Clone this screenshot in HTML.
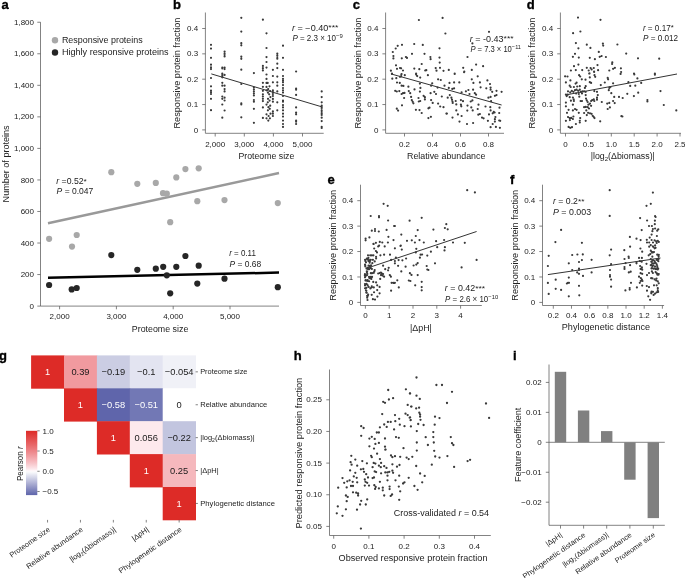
<!DOCTYPE html>
<html><head><meta charset="utf-8"><style>
html,body{margin:0;padding:0;background:#fff;width:685px;height:578px;overflow:hidden}
svg{display:block;will-change:transform}
text{font-family:"Liberation Sans",sans-serif}
</style></head><body>
<svg width="685" height="578" viewBox="0 0 685 578">
<rect width="685" height="578" fill="#fff"/>
<text x="1.50" y="9.20" font-size="13" fill="#000" font-weight="bold" stroke="#000" stroke-width="0.35">a</text>
<text x="173.00" y="9.10" font-size="13" fill="#000" font-weight="bold" stroke="#000" stroke-width="0.35">b</text>
<text x="352.70" y="9.20" font-size="13" fill="#000" font-weight="bold" stroke="#000" stroke-width="0.35">c</text>
<text x="526.70" y="9.20" font-size="13" fill="#000" font-weight="bold" stroke="#000" stroke-width="0.35">d</text>
<text x="327.60" y="184.00" font-size="13" fill="#000" font-weight="bold" stroke="#000" stroke-width="0.35">e</text>
<text x="510.00" y="184.00" font-size="13" fill="#000" font-weight="bold" stroke="#000" stroke-width="0.35">f</text>
<text x="-1.00" y="359.60" font-size="13" fill="#000" font-weight="bold" stroke="#000" stroke-width="0.35">g</text>
<text x="293.70" y="359.80" font-size="13" fill="#000" font-weight="bold" stroke="#000" stroke-width="0.35">h</text>
<text x="513.10" y="359.80" font-size="13" fill="#000" font-weight="bold" stroke="#000" stroke-width="0.35">i</text>
<line x1="40.50" y1="22.20" x2="40.50" y2="306.10" stroke="#5a5a5a" stroke-width="0.75" stroke-linecap="butt"/>
<line x1="37.30" y1="306.10" x2="40.50" y2="306.10" stroke="#5a5a5a" stroke-width="0.75" stroke-linecap="butt"/>
<text x="34.00" y="308.70" font-size="8.0" fill="#222222" text-anchor="end">0</text>
<line x1="37.30" y1="274.56" x2="40.50" y2="274.56" stroke="#5a5a5a" stroke-width="0.75" stroke-linecap="butt"/>
<text x="34.00" y="277.16" font-size="8.0" fill="#222222" text-anchor="end">200</text>
<line x1="37.30" y1="243.02" x2="40.50" y2="243.02" stroke="#5a5a5a" stroke-width="0.75" stroke-linecap="butt"/>
<text x="34.00" y="245.62" font-size="8.0" fill="#222222" text-anchor="end">400</text>
<line x1="37.30" y1="211.48" x2="40.50" y2="211.48" stroke="#5a5a5a" stroke-width="0.75" stroke-linecap="butt"/>
<text x="34.00" y="214.08" font-size="8.0" fill="#222222" text-anchor="end">600</text>
<line x1="37.30" y1="179.94" x2="40.50" y2="179.94" stroke="#5a5a5a" stroke-width="0.75" stroke-linecap="butt"/>
<text x="34.00" y="182.54" font-size="8.0" fill="#222222" text-anchor="end">800</text>
<line x1="37.30" y1="148.40" x2="40.50" y2="148.40" stroke="#5a5a5a" stroke-width="0.75" stroke-linecap="butt"/>
<text x="34.00" y="151.00" font-size="8.0" fill="#222222" text-anchor="end">1,000</text>
<line x1="37.30" y1="116.86" x2="40.50" y2="116.86" stroke="#5a5a5a" stroke-width="0.75" stroke-linecap="butt"/>
<text x="34.00" y="119.46" font-size="8.0" fill="#222222" text-anchor="end">1,200</text>
<line x1="37.30" y1="85.32" x2="40.50" y2="85.32" stroke="#5a5a5a" stroke-width="0.75" stroke-linecap="butt"/>
<text x="34.00" y="87.92" font-size="8.0" fill="#222222" text-anchor="end">1,400</text>
<line x1="37.30" y1="53.78" x2="40.50" y2="53.78" stroke="#5a5a5a" stroke-width="0.75" stroke-linecap="butt"/>
<text x="34.00" y="56.38" font-size="8.0" fill="#222222" text-anchor="end">1,600</text>
<line x1="37.30" y1="22.24" x2="40.50" y2="22.24" stroke="#5a5a5a" stroke-width="0.75" stroke-linecap="butt"/>
<text x="34.00" y="24.84" font-size="8.0" fill="#222222" text-anchor="end">1,800</text>
<line x1="40.50" y1="306.10" x2="279.00" y2="306.10" stroke="#5a5a5a" stroke-width="0.75" stroke-linecap="butt"/>
<line x1="59.60" y1="306.10" x2="59.60" y2="309.30" stroke="#5a5a5a" stroke-width="0.75" stroke-linecap="butt"/>
<text x="59.60" y="318.70" font-size="8.0" fill="#222222" text-anchor="middle">2,000</text>
<line x1="116.40" y1="306.10" x2="116.40" y2="309.30" stroke="#5a5a5a" stroke-width="0.75" stroke-linecap="butt"/>
<text x="116.40" y="318.70" font-size="8.0" fill="#222222" text-anchor="middle">3,000</text>
<line x1="173.20" y1="306.10" x2="173.20" y2="309.30" stroke="#5a5a5a" stroke-width="0.75" stroke-linecap="butt"/>
<text x="173.20" y="318.70" font-size="8.0" fill="#222222" text-anchor="middle">4,000</text>
<line x1="230.00" y1="306.10" x2="230.00" y2="309.30" stroke="#5a5a5a" stroke-width="0.75" stroke-linecap="butt"/>
<text x="230.00" y="318.70" font-size="8.0" fill="#222222" text-anchor="middle">5,000</text>
<text x="160.05" y="331.90" font-size="8.4" fill="#222222" text-anchor="middle" textLength="56.50" lengthAdjust="spacingAndGlyphs">Proteome size</text>
<text x="8.70" y="163.90" font-size="8.4" fill="#222222" text-anchor="middle" textLength="77.00" lengthAdjust="spacingAndGlyphs" transform="rotate(-90 8.70 163.90)">Number of proteins</text>
<circle cx="55.00" cy="40.20" r="3.2" fill="#a8a8a8"/>
<circle cx="55.00" cy="52.50" r="3.2" fill="#262626"/>
<text x="61.90" y="42.90" font-size="8.7" fill="#222222" textLength="80.80" lengthAdjust="spacingAndGlyphs">Responsive proteins</text>
<text x="61.90" y="55.20" font-size="8.7" fill="#222222" textLength="106.70" lengthAdjust="spacingAndGlyphs">Highly responsive proteins</text>
<line x1="48.00" y1="223.30" x2="279.00" y2="173.00" stroke="#999999" stroke-width="2.5" stroke-linecap="butt"/>
<line x1="48.00" y1="277.80" x2="279.00" y2="272.60" stroke="#000000" stroke-width="2.5" stroke-linecap="butt"/>
<circle cx="49.10" cy="238.80" r="3.1" fill="#a8a8a8"/>
<circle cx="72.00" cy="246.60" r="3.1" fill="#a8a8a8"/>
<circle cx="76.70" cy="235.00" r="3.1" fill="#a8a8a8"/>
<circle cx="111.30" cy="172.20" r="3.1" fill="#a8a8a8"/>
<circle cx="137.30" cy="183.80" r="3.1" fill="#a8a8a8"/>
<circle cx="155.80" cy="182.90" r="3.1" fill="#a8a8a8"/>
<circle cx="163.00" cy="193.20" r="3.1" fill="#a8a8a8"/>
<circle cx="166.80" cy="193.70" r="3.1" fill="#a8a8a8"/>
<circle cx="170.20" cy="222.20" r="3.1" fill="#a8a8a8"/>
<circle cx="176.30" cy="177.40" r="3.1" fill="#a8a8a8"/>
<circle cx="185.40" cy="169.10" r="3.1" fill="#a8a8a8"/>
<circle cx="198.70" cy="168.30" r="3.1" fill="#a8a8a8"/>
<circle cx="197.30" cy="201.20" r="3.1" fill="#a8a8a8"/>
<circle cx="224.50" cy="200.10" r="3.1" fill="#a8a8a8"/>
<circle cx="277.80" cy="203.10" r="3.1" fill="#a8a8a8"/>
<circle cx="49.10" cy="285.00" r="3.1" fill="#262626"/>
<circle cx="71.70" cy="289.40" r="3.1" fill="#262626"/>
<circle cx="76.70" cy="288.00" r="3.1" fill="#262626"/>
<circle cx="111.30" cy="255.10" r="3.1" fill="#262626"/>
<circle cx="137.30" cy="269.80" r="3.1" fill="#262626"/>
<circle cx="155.80" cy="268.70" r="3.1" fill="#262626"/>
<circle cx="163.20" cy="266.80" r="3.1" fill="#262626"/>
<circle cx="166.80" cy="275.30" r="3.1" fill="#262626"/>
<circle cx="170.20" cy="293.30" r="3.1" fill="#262626"/>
<circle cx="176.30" cy="266.80" r="3.1" fill="#262626"/>
<circle cx="185.40" cy="256.00" r="3.1" fill="#262626"/>
<circle cx="198.70" cy="265.70" r="3.1" fill="#262626"/>
<circle cx="197.30" cy="283.60" r="3.1" fill="#262626"/>
<circle cx="224.50" cy="278.70" r="3.1" fill="#262626"/>
<circle cx="277.80" cy="287.20" r="3.1" fill="#262626"/>
<text x="56.30" y="184.10" font-size="8.4" fill="#222222" textLength="30.50" lengthAdjust="spacingAndGlyphs"><tspan font-style="italic">r</tspan> =0.52<tspan dy="-0.6" font-size="8">*</tspan></text>
<text x="56.60" y="194.30" font-size="8.4" fill="#222222" textLength="36.70" lengthAdjust="spacingAndGlyphs"><tspan font-style="italic">P</tspan> = 0.047</text>
<text x="229.20" y="256.40" font-size="8.4" fill="#222222" textLength="26.70" lengthAdjust="spacingAndGlyphs"><tspan font-style="italic">r</tspan> = 0.11</text>
<text x="229.50" y="266.50" font-size="8.4" fill="#222222" textLength="31.70" lengthAdjust="spacingAndGlyphs"><tspan font-style="italic">P</tspan> = 0.68</text>
<line x1="205.40" y1="12.50" x2="205.40" y2="133.30" stroke="#5a5a5a" stroke-width="0.75" stroke-linecap="butt"/>
<line x1="202.20" y1="129.90" x2="205.40" y2="129.90" stroke="#5a5a5a" stroke-width="0.75" stroke-linecap="butt"/>
<text x="198.20" y="132.50" font-size="8.0" fill="#222222" text-anchor="end">0</text>
<line x1="202.20" y1="104.55" x2="205.40" y2="104.55" stroke="#5a5a5a" stroke-width="0.75" stroke-linecap="butt"/>
<text x="198.20" y="107.15" font-size="8.0" fill="#222222" text-anchor="end">0.1</text>
<line x1="202.20" y1="79.20" x2="205.40" y2="79.20" stroke="#5a5a5a" stroke-width="0.75" stroke-linecap="butt"/>
<text x="198.20" y="81.80" font-size="8.0" fill="#222222" text-anchor="end">0.2</text>
<line x1="202.20" y1="53.85" x2="205.40" y2="53.85" stroke="#5a5a5a" stroke-width="0.75" stroke-linecap="butt"/>
<text x="198.20" y="56.45" font-size="8.0" fill="#222222" text-anchor="end">0.3</text>
<line x1="202.20" y1="28.50" x2="205.40" y2="28.50" stroke="#5a5a5a" stroke-width="0.75" stroke-linecap="butt"/>
<text x="198.20" y="31.10" font-size="8.0" fill="#222222" text-anchor="end">0.4</text>
<line x1="205.40" y1="133.30" x2="323.70" y2="133.30" stroke="#5a5a5a" stroke-width="0.75" stroke-linecap="butt"/>
<line x1="215.20" y1="133.30" x2="215.20" y2="136.50" stroke="#5a5a5a" stroke-width="0.75" stroke-linecap="butt"/>
<text x="215.20" y="146.60" font-size="8.0" fill="#222222" text-anchor="middle">2,000</text>
<line x1="244.30" y1="133.30" x2="244.30" y2="136.50" stroke="#5a5a5a" stroke-width="0.75" stroke-linecap="butt"/>
<text x="244.30" y="146.60" font-size="8.0" fill="#222222" text-anchor="middle">3,000</text>
<line x1="273.40" y1="133.30" x2="273.40" y2="136.50" stroke="#5a5a5a" stroke-width="0.75" stroke-linecap="butt"/>
<text x="273.40" y="146.60" font-size="8.0" fill="#222222" text-anchor="middle">4,000</text>
<line x1="302.50" y1="133.30" x2="302.50" y2="136.50" stroke="#5a5a5a" stroke-width="0.75" stroke-linecap="butt"/>
<text x="302.50" y="146.60" font-size="8.0" fill="#222222" text-anchor="middle">5,000</text>
<text x="180.40" y="73.05" font-size="8.4" fill="#222222" text-anchor="middle" textLength="110.90" lengthAdjust="spacingAndGlyphs" transform="rotate(-90 180.40 73.05)">Responsive protein fraction</text>
<text x="266.40" y="159.00" font-size="8.4" fill="#222222" text-anchor="middle" textLength="55.80" lengthAdjust="spacingAndGlyphs">Proteome size</text>
<line x1="211.30" y1="73.90" x2="322.00" y2="106.90" stroke="#333" stroke-width="1.0" stroke-linecap="butt"/>
<text x="292.00" y="30.70" font-size="8.4" fill="#222222" textLength="46.40" lengthAdjust="spacingAndGlyphs"><tspan font-style="italic">r</tspan> = −0.40<tspan dy="-0.6" font-size="8">***</tspan></text>
<text x="292.40" y="40.90" font-size="8.4" fill="#222222" textLength="50.40" lengthAdjust="spacingAndGlyphs"><tspan font-style="italic">P</tspan> = 2.3 × 10<tspan dy="-3.0" font-size="6.2">−9</tspan></text>
<line x1="385.60" y1="12.50" x2="385.60" y2="133.30" stroke="#5a5a5a" stroke-width="0.75" stroke-linecap="butt"/>
<line x1="382.40" y1="129.90" x2="385.60" y2="129.90" stroke="#5a5a5a" stroke-width="0.75" stroke-linecap="butt"/>
<text x="378.40" y="132.50" font-size="8.0" fill="#222222" text-anchor="end">0</text>
<line x1="382.40" y1="104.55" x2="385.60" y2="104.55" stroke="#5a5a5a" stroke-width="0.75" stroke-linecap="butt"/>
<text x="378.40" y="107.15" font-size="8.0" fill="#222222" text-anchor="end">0.1</text>
<line x1="382.40" y1="79.20" x2="385.60" y2="79.20" stroke="#5a5a5a" stroke-width="0.75" stroke-linecap="butt"/>
<text x="378.40" y="81.80" font-size="8.0" fill="#222222" text-anchor="end">0.2</text>
<line x1="382.40" y1="53.85" x2="385.60" y2="53.85" stroke="#5a5a5a" stroke-width="0.75" stroke-linecap="butt"/>
<text x="378.40" y="56.45" font-size="8.0" fill="#222222" text-anchor="end">0.3</text>
<line x1="382.40" y1="28.50" x2="385.60" y2="28.50" stroke="#5a5a5a" stroke-width="0.75" stroke-linecap="butt"/>
<text x="378.40" y="31.10" font-size="8.0" fill="#222222" text-anchor="end">0.4</text>
<line x1="385.60" y1="133.30" x2="504.00" y2="133.30" stroke="#5a5a5a" stroke-width="0.75" stroke-linecap="butt"/>
<line x1="404.50" y1="133.30" x2="404.50" y2="136.50" stroke="#5a5a5a" stroke-width="0.75" stroke-linecap="butt"/>
<text x="404.50" y="146.60" font-size="8.0" fill="#222222" text-anchor="middle">0.2</text>
<line x1="432.50" y1="133.30" x2="432.50" y2="136.50" stroke="#5a5a5a" stroke-width="0.75" stroke-linecap="butt"/>
<text x="432.50" y="146.60" font-size="8.0" fill="#222222" text-anchor="middle">0.4</text>
<line x1="460.50" y1="133.30" x2="460.50" y2="136.50" stroke="#5a5a5a" stroke-width="0.75" stroke-linecap="butt"/>
<text x="460.50" y="146.60" font-size="8.0" fill="#222222" text-anchor="middle">0.6</text>
<line x1="488.50" y1="133.30" x2="488.50" y2="136.50" stroke="#5a5a5a" stroke-width="0.75" stroke-linecap="butt"/>
<text x="488.50" y="146.60" font-size="8.0" fill="#222222" text-anchor="middle">0.8</text>
<text x="360.60" y="73.05" font-size="8.4" fill="#222222" text-anchor="middle" textLength="110.90" lengthAdjust="spacingAndGlyphs" transform="rotate(-90 360.60 73.05)">Responsive protein fraction</text>
<text x="446.20" y="159.00" font-size="8.4" fill="#222222" text-anchor="middle" textLength="78.40" lengthAdjust="spacingAndGlyphs">Relative abundance</text>
<line x1="390.90" y1="73.90" x2="501.60" y2="105.00" stroke="#333" stroke-width="1.0" stroke-linecap="butt"/>
<text x="469.80" y="42.00" font-size="8.4" fill="#222222" textLength="43.80" lengthAdjust="spacingAndGlyphs"><tspan font-style="italic">r</tspan> = -0.43<tspan dy="-0.6" font-size="8">***</tspan></text>
<text x="470.40" y="51.60" font-size="8.4" fill="#222222" textLength="50.60" lengthAdjust="spacingAndGlyphs"><tspan font-style="italic">P</tspan> = 7.3 × 10<tspan dy="-3.0" font-size="6.2">−11</tspan></text>
<line x1="560.40" y1="12.50" x2="560.40" y2="133.30" stroke="#5a5a5a" stroke-width="0.75" stroke-linecap="butt"/>
<line x1="557.20" y1="129.90" x2="560.40" y2="129.90" stroke="#5a5a5a" stroke-width="0.75" stroke-linecap="butt"/>
<text x="553.20" y="132.50" font-size="8.0" fill="#222222" text-anchor="end">0</text>
<line x1="557.20" y1="104.55" x2="560.40" y2="104.55" stroke="#5a5a5a" stroke-width="0.75" stroke-linecap="butt"/>
<text x="553.20" y="107.15" font-size="8.0" fill="#222222" text-anchor="end">0.1</text>
<line x1="557.20" y1="79.20" x2="560.40" y2="79.20" stroke="#5a5a5a" stroke-width="0.75" stroke-linecap="butt"/>
<text x="553.20" y="81.80" font-size="8.0" fill="#222222" text-anchor="end">0.2</text>
<line x1="557.20" y1="53.85" x2="560.40" y2="53.85" stroke="#5a5a5a" stroke-width="0.75" stroke-linecap="butt"/>
<text x="553.20" y="56.45" font-size="8.0" fill="#222222" text-anchor="end">0.3</text>
<line x1="557.20" y1="28.50" x2="560.40" y2="28.50" stroke="#5a5a5a" stroke-width="0.75" stroke-linecap="butt"/>
<text x="553.20" y="31.10" font-size="8.0" fill="#222222" text-anchor="end">0.4</text>
<line x1="560.40" y1="133.30" x2="681.00" y2="133.30" stroke="#5a5a5a" stroke-width="0.75" stroke-linecap="butt"/>
<line x1="565.50" y1="133.30" x2="565.50" y2="136.50" stroke="#5a5a5a" stroke-width="0.75" stroke-linecap="butt"/>
<text x="565.50" y="146.60" font-size="8.0" fill="#222222" text-anchor="middle">0</text>
<line x1="588.40" y1="133.30" x2="588.40" y2="136.50" stroke="#5a5a5a" stroke-width="0.75" stroke-linecap="butt"/>
<text x="588.40" y="146.60" font-size="8.0" fill="#222222" text-anchor="middle">0.5</text>
<line x1="611.30" y1="133.30" x2="611.30" y2="136.50" stroke="#5a5a5a" stroke-width="0.75" stroke-linecap="butt"/>
<text x="611.30" y="146.60" font-size="8.0" fill="#222222" text-anchor="middle">1.0</text>
<line x1="634.20" y1="133.30" x2="634.20" y2="136.50" stroke="#5a5a5a" stroke-width="0.75" stroke-linecap="butt"/>
<text x="634.20" y="146.60" font-size="8.0" fill="#222222" text-anchor="middle">1.5</text>
<line x1="657.10" y1="133.30" x2="657.10" y2="136.50" stroke="#5a5a5a" stroke-width="0.75" stroke-linecap="butt"/>
<text x="657.10" y="146.60" font-size="8.0" fill="#222222" text-anchor="middle">2.0</text>
<line x1="680.00" y1="133.30" x2="680.00" y2="136.50" stroke="#5a5a5a" stroke-width="0.75" stroke-linecap="butt"/>
<text x="680.00" y="146.60" font-size="8.0" fill="#222222" text-anchor="middle">2.5</text>
<text x="535.40" y="73.05" font-size="8.4" fill="#222222" text-anchor="middle" textLength="110.90" lengthAdjust="spacingAndGlyphs" transform="rotate(-90 535.40 73.05)">Responsive protein fraction</text>
<text x="622.80" y="159.00" font-size="8.4" fill="#222222" text-anchor="middle" textLength="64.20" lengthAdjust="spacingAndGlyphs">|log<tspan font-size="5.8" dy="2">2</tspan><tspan dy="-2">(Δbiomass)|</tspan></text>
<line x1="565.40" y1="95.00" x2="677.00" y2="74.00" stroke="#333" stroke-width="1.0" stroke-linecap="butt"/>
<text x="642.90" y="31.00" font-size="8.4" fill="#222222" textLength="30.80" lengthAdjust="spacingAndGlyphs"><tspan font-style="italic">r</tspan> = 0.17<tspan dy="-0.6" font-size="8">*</tspan></text>
<text x="643.00" y="40.50" font-size="8.4" fill="#222222" textLength="35.10" lengthAdjust="spacingAndGlyphs"><tspan font-style="italic">P</tspan> = 0.012</text>
<line x1="360.50" y1="184.70" x2="360.50" y2="305.50" stroke="#5a5a5a" stroke-width="0.75" stroke-linecap="butt"/>
<line x1="357.30" y1="302.40" x2="360.50" y2="302.40" stroke="#5a5a5a" stroke-width="0.75" stroke-linecap="butt"/>
<text x="353.30" y="305.00" font-size="8.0" fill="#222222" text-anchor="end">0</text>
<line x1="357.30" y1="276.97" x2="360.50" y2="276.97" stroke="#5a5a5a" stroke-width="0.75" stroke-linecap="butt"/>
<text x="353.30" y="279.57" font-size="8.0" fill="#222222" text-anchor="end">0.1</text>
<line x1="357.30" y1="251.54" x2="360.50" y2="251.54" stroke="#5a5a5a" stroke-width="0.75" stroke-linecap="butt"/>
<text x="353.30" y="254.14" font-size="8.0" fill="#222222" text-anchor="end">0.2</text>
<line x1="357.30" y1="226.11" x2="360.50" y2="226.11" stroke="#5a5a5a" stroke-width="0.75" stroke-linecap="butt"/>
<text x="353.30" y="228.71" font-size="8.0" fill="#222222" text-anchor="end">0.3</text>
<line x1="357.30" y1="200.68" x2="360.50" y2="200.68" stroke="#5a5a5a" stroke-width="0.75" stroke-linecap="butt"/>
<text x="353.30" y="203.28" font-size="8.0" fill="#222222" text-anchor="end">0.4</text>
<line x1="360.50" y1="305.50" x2="481.80" y2="305.50" stroke="#5a5a5a" stroke-width="0.75" stroke-linecap="butt"/>
<line x1="365.40" y1="305.50" x2="365.40" y2="308.70" stroke="#5a5a5a" stroke-width="0.75" stroke-linecap="butt"/>
<text x="365.40" y="318.30" font-size="8.0" fill="#222222" text-anchor="middle">0</text>
<line x1="389.20" y1="305.50" x2="389.20" y2="308.70" stroke="#5a5a5a" stroke-width="0.75" stroke-linecap="butt"/>
<text x="389.20" y="318.30" font-size="8.0" fill="#222222" text-anchor="middle">1</text>
<line x1="413.00" y1="305.50" x2="413.00" y2="308.70" stroke="#5a5a5a" stroke-width="0.75" stroke-linecap="butt"/>
<text x="413.00" y="318.30" font-size="8.0" fill="#222222" text-anchor="middle">2</text>
<line x1="436.80" y1="305.50" x2="436.80" y2="308.70" stroke="#5a5a5a" stroke-width="0.75" stroke-linecap="butt"/>
<text x="436.80" y="318.30" font-size="8.0" fill="#222222" text-anchor="middle">3</text>
<line x1="460.60" y1="305.50" x2="460.60" y2="308.70" stroke="#5a5a5a" stroke-width="0.75" stroke-linecap="butt"/>
<text x="460.60" y="318.30" font-size="8.0" fill="#222222" text-anchor="middle">4</text>
<text x="335.50" y="245.25" font-size="8.4" fill="#222222" text-anchor="middle" textLength="110.90" lengthAdjust="spacingAndGlyphs" transform="rotate(-90 335.50 245.25)">Responsive protein fraction</text>
<text x="420.95" y="330.60" font-size="8.4" fill="#222222" text-anchor="middle" textLength="21.90" lengthAdjust="spacingAndGlyphs">|ΔpH|</text>
<line x1="366.00" y1="268.50" x2="476.60" y2="231.50" stroke="#333" stroke-width="1.0" stroke-linecap="butt"/>
<text x="444.80" y="291.20" font-size="8.4" fill="#222222" textLength="40.30" lengthAdjust="spacingAndGlyphs"><tspan font-style="italic">r</tspan> = 0.42<tspan dy="-0.6" font-size="8">***</tspan></text>
<text x="445.10" y="301.50" font-size="8.4" fill="#222222" textLength="53.10" lengthAdjust="spacingAndGlyphs"><tspan font-style="italic">P</tspan> = 2.6 × 10<tspan dy="-3.0" font-size="6.2">−10</tspan></text>
<line x1="542.50" y1="184.70" x2="542.50" y2="305.50" stroke="#5a5a5a" stroke-width="0.75" stroke-linecap="butt"/>
<line x1="539.30" y1="302.40" x2="542.50" y2="302.40" stroke="#5a5a5a" stroke-width="0.75" stroke-linecap="butt"/>
<text x="535.30" y="305.00" font-size="8.0" fill="#222222" text-anchor="end">0</text>
<line x1="539.30" y1="276.97" x2="542.50" y2="276.97" stroke="#5a5a5a" stroke-width="0.75" stroke-linecap="butt"/>
<text x="535.30" y="279.57" font-size="8.0" fill="#222222" text-anchor="end">0.1</text>
<line x1="539.30" y1="251.54" x2="542.50" y2="251.54" stroke="#5a5a5a" stroke-width="0.75" stroke-linecap="butt"/>
<text x="535.30" y="254.14" font-size="8.0" fill="#222222" text-anchor="end">0.2</text>
<line x1="539.30" y1="226.11" x2="542.50" y2="226.11" stroke="#5a5a5a" stroke-width="0.75" stroke-linecap="butt"/>
<text x="535.30" y="228.71" font-size="8.0" fill="#222222" text-anchor="end">0.3</text>
<line x1="539.30" y1="200.68" x2="542.50" y2="200.68" stroke="#5a5a5a" stroke-width="0.75" stroke-linecap="butt"/>
<text x="535.30" y="203.28" font-size="8.0" fill="#222222" text-anchor="end">0.4</text>
<line x1="542.50" y1="305.50" x2="664.10" y2="305.50" stroke="#5a5a5a" stroke-width="0.75" stroke-linecap="butt"/>
<line x1="553.30" y1="305.50" x2="553.30" y2="308.70" stroke="#5a5a5a" stroke-width="0.75" stroke-linecap="butt"/>
<text x="553.30" y="318.30" font-size="8.0" fill="#222222" text-anchor="middle">0.2</text>
<line x1="571.48" y1="305.50" x2="571.48" y2="308.70" stroke="#5a5a5a" stroke-width="0.75" stroke-linecap="butt"/>
<text x="571.48" y="318.30" font-size="8.0" fill="#222222" text-anchor="middle">0.4</text>
<line x1="589.66" y1="305.50" x2="589.66" y2="308.70" stroke="#5a5a5a" stroke-width="0.75" stroke-linecap="butt"/>
<text x="589.66" y="318.30" font-size="8.0" fill="#222222" text-anchor="middle">0.6</text>
<line x1="607.84" y1="305.50" x2="607.84" y2="308.70" stroke="#5a5a5a" stroke-width="0.75" stroke-linecap="butt"/>
<text x="607.84" y="318.30" font-size="8.0" fill="#222222" text-anchor="middle">0.8</text>
<line x1="626.02" y1="305.50" x2="626.02" y2="308.70" stroke="#5a5a5a" stroke-width="0.75" stroke-linecap="butt"/>
<text x="626.02" y="318.30" font-size="8.0" fill="#222222" text-anchor="middle">1.0</text>
<line x1="644.20" y1="305.50" x2="644.20" y2="308.70" stroke="#5a5a5a" stroke-width="0.75" stroke-linecap="butt"/>
<text x="644.20" y="318.30" font-size="8.0" fill="#222222" text-anchor="middle">1.2</text>
<line x1="662.38" y1="305.50" x2="662.38" y2="308.70" stroke="#5a5a5a" stroke-width="0.75" stroke-linecap="butt"/>
<text x="662.38" y="318.30" font-size="8.0" fill="#222222" text-anchor="middle">1.4</text>
<text x="517.50" y="245.25" font-size="8.4" fill="#222222" text-anchor="middle" textLength="110.90" lengthAdjust="spacingAndGlyphs" transform="rotate(-90 517.50 245.25)">Responsive protein fraction</text>
<text x="605.95" y="330.20" font-size="8.4" fill="#222222" text-anchor="middle" textLength="88.30" lengthAdjust="spacingAndGlyphs">Phylogenetic distance</text>
<line x1="547.90" y1="274.60" x2="660.50" y2="258.00" stroke="#333" stroke-width="1.0" stroke-linecap="butt"/>
<text x="553.00" y="204.20" font-size="8.4" fill="#222222" textLength="31.40" lengthAdjust="spacingAndGlyphs"><tspan font-style="italic">r</tspan> = 0.2<tspan dy="-0.6" font-size="8">**</tspan></text>
<text x="553.00" y="214.60" font-size="8.4" fill="#222222" textLength="38.10" lengthAdjust="spacingAndGlyphs"><tspan font-style="italic">P</tspan> = 0.003</text>
<rect x="31.10" y="355.40" width="33.30" height="33.30" fill="rgb(221, 43, 39)"/>
<rect x="64.00" y="355.40" width="33.30" height="33.30" fill="rgb(241, 154, 159)"/>
<rect x="96.90" y="355.40" width="33.30" height="33.30" fill="rgb(203, 205, 227)"/>
<rect x="129.80" y="355.40" width="33.30" height="33.30" fill="rgb(227, 228, 241)"/>
<rect x="162.70" y="355.40" width="33.30" height="33.30" fill="rgb(240, 241, 247)"/>
<rect x="64.00" y="388.30" width="33.30" height="33.30" fill="rgb(221, 43, 39)"/>
<rect x="96.90" y="388.30" width="33.30" height="33.30" fill="rgb(95, 101, 171)"/>
<rect x="129.80" y="388.30" width="33.30" height="33.30" fill="rgb(114, 120, 181)"/>
<rect x="162.70" y="388.30" width="33.30" height="33.30" fill="rgb(255, 255, 255)"/>
<rect x="96.90" y="421.20" width="33.30" height="33.30" fill="rgb(221, 43, 39)"/>
<rect x="129.80" y="421.20" width="33.30" height="33.30" fill="rgb(253, 233, 237)"/>
<rect x="162.70" y="421.20" width="33.30" height="33.30" fill="rgb(194, 197, 223)"/>
<rect x="129.80" y="454.10" width="33.30" height="33.30" fill="rgb(221, 43, 39)"/>
<rect x="162.70" y="454.10" width="33.30" height="33.30" fill="rgb(245, 184, 189)"/>
<rect x="162.70" y="487.00" width="33.30" height="33.30" fill="rgb(221, 43, 39)"/>
<text x="47.55" y="375.15" font-size="9.3" fill="#fff" text-anchor="middle">1</text>
<text x="80.45" y="375.15" font-size="9.3" fill="#1a1a1a" text-anchor="middle">0.39</text>
<text x="113.35" y="375.15" font-size="9.3" fill="#1a1a1a" text-anchor="middle">−0.19</text>
<text x="146.25" y="375.15" font-size="9.3" fill="#1a1a1a" text-anchor="middle">−0.1</text>
<text x="179.15" y="375.15" font-size="9.3" fill="#1a1a1a" text-anchor="middle">−0.054</text>
<text x="80.45" y="408.05" font-size="9.3" fill="#fff" text-anchor="middle">1</text>
<text x="113.35" y="408.05" font-size="9.3" fill="#fff" text-anchor="middle">−0.58</text>
<text x="146.25" y="408.05" font-size="9.3" fill="#fff" text-anchor="middle">−0.51</text>
<text x="179.15" y="408.05" font-size="9.3" fill="#1a1a1a" text-anchor="middle">0</text>
<text x="113.35" y="440.95" font-size="9.3" fill="#fff" text-anchor="middle">1</text>
<text x="146.25" y="440.95" font-size="9.3" fill="#1a1a1a" text-anchor="middle">0.056</text>
<text x="179.15" y="440.95" font-size="9.3" fill="#1a1a1a" text-anchor="middle">−0.22</text>
<text x="146.25" y="473.85" font-size="9.3" fill="#fff" text-anchor="middle">1</text>
<text x="179.15" y="473.85" font-size="9.3" fill="#1a1a1a" text-anchor="middle">0.25</text>
<text x="179.15" y="506.75" font-size="9.3" fill="#fff" text-anchor="middle">1</text>
<line x1="195.60" y1="371.85" x2="197.90" y2="371.85" stroke="#5a5a5a" stroke-width="0.75" stroke-linecap="butt"/>
<text x="200.20" y="374.45" font-size="7.4" fill="#222222" textLength="47.30" lengthAdjust="spacingAndGlyphs">Proteome size</text>
<line x1="47.55" y1="519.90" x2="47.55" y2="522.50" stroke="#5a5a5a" stroke-width="0.75" stroke-linecap="butt"/>
<text x="50.55" y="530.70" font-size="7.4" fill="#222222" text-anchor="end" textLength="47.30" lengthAdjust="spacingAndGlyphs" transform="rotate(-35 50.55 530.70)">Proteome size</text>
<line x1="195.60" y1="404.75" x2="197.90" y2="404.75" stroke="#5a5a5a" stroke-width="0.75" stroke-linecap="butt"/>
<text x="200.20" y="407.35" font-size="7.4" fill="#222222" textLength="67.00" lengthAdjust="spacingAndGlyphs">Relative abundance</text>
<line x1="80.45" y1="519.90" x2="80.45" y2="522.50" stroke="#5a5a5a" stroke-width="0.75" stroke-linecap="butt"/>
<text x="83.45" y="530.70" font-size="7.4" fill="#222222" text-anchor="end" textLength="67.00" lengthAdjust="spacingAndGlyphs" transform="rotate(-35 83.45 530.70)">Relative abundance</text>
<line x1="195.60" y1="437.65" x2="197.90" y2="437.65" stroke="#5a5a5a" stroke-width="0.75" stroke-linecap="butt"/>
<text x="200.20" y="440.25" font-size="7.4" fill="#222222" textLength="54.50" lengthAdjust="spacingAndGlyphs">|log<tspan font-size="5" dy="1.5">2</tspan><tspan dy="-1.5">(Δbiomass)|</tspan></text>
<line x1="113.35" y1="519.90" x2="113.35" y2="522.50" stroke="#5a5a5a" stroke-width="0.75" stroke-linecap="butt"/>
<text x="116.35" y="530.70" font-size="7.4" fill="#222222" text-anchor="end" textLength="54.50" lengthAdjust="spacingAndGlyphs" transform="rotate(-35 116.35 530.70)">|log<tspan font-size="5" dy="1.5">2</tspan><tspan dy="-1.5">(Δbiomass)|</tspan></text>
<line x1="195.60" y1="470.55" x2="197.90" y2="470.55" stroke="#5a5a5a" stroke-width="0.75" stroke-linecap="butt"/>
<text x="200.20" y="473.15" font-size="7.4" fill="#222222" textLength="18.50" lengthAdjust="spacingAndGlyphs">|ΔpH|</text>
<line x1="146.25" y1="519.90" x2="146.25" y2="522.50" stroke="#5a5a5a" stroke-width="0.75" stroke-linecap="butt"/>
<text x="149.25" y="530.70" font-size="7.4" fill="#222222" text-anchor="end" textLength="18.50" lengthAdjust="spacingAndGlyphs" transform="rotate(-35 149.25 530.70)">|ΔpH|</text>
<line x1="195.60" y1="503.45" x2="197.90" y2="503.45" stroke="#5a5a5a" stroke-width="0.75" stroke-linecap="butt"/>
<text x="200.20" y="506.05" font-size="7.4" fill="#222222" textLength="74.80" lengthAdjust="spacingAndGlyphs">Phylogenetic distance</text>
<line x1="179.15" y1="519.90" x2="179.15" y2="522.50" stroke="#5a5a5a" stroke-width="0.75" stroke-linecap="butt"/>
<text x="182.15" y="530.70" font-size="7.4" fill="#222222" text-anchor="end" textLength="74.80" lengthAdjust="spacingAndGlyphs" transform="rotate(-35 182.15 530.70)">Phylogenetic distance</text>
<defs><linearGradient id="cb" x1="0" y1="0" x2="0" y2="1"><stop offset="0.0000" stop-color="rgb(221, 43, 39)"/><stop offset="0.0250" stop-color="rgb(222, 50, 46)"/><stop offset="0.0500" stop-color="rgb(223, 56, 54)"/><stop offset="0.0750" stop-color="rgb(225, 63, 61)"/><stop offset="0.1000" stop-color="rgb(226, 70, 69)"/><stop offset="0.1250" stop-color="rgb(227, 77, 76)"/><stop offset="0.1500" stop-color="rgb(228, 84, 84)"/><stop offset="0.1750" stop-color="rgb(230, 91, 92)"/><stop offset="0.2000" stop-color="rgb(231, 98, 99)"/><stop offset="0.2250" stop-color="rgb(232, 105, 107)"/><stop offset="0.2500" stop-color="rgb(234, 113, 115)"/><stop offset="0.2750" stop-color="rgb(235, 120, 123)"/><stop offset="0.3000" stop-color="rgb(236, 128, 131)"/><stop offset="0.3250" stop-color="rgb(237, 135, 139)"/><stop offset="0.3500" stop-color="rgb(239, 143, 147)"/><stop offset="0.3750" stop-color="rgb(240, 151, 156)"/><stop offset="0.4000" stop-color="rgb(241, 159, 164)"/><stop offset="0.4250" stop-color="rgb(243, 168, 173)"/><stop offset="0.4500" stop-color="rgb(244, 176, 181)"/><stop offset="0.4750" stop-color="rgb(246, 185, 190)"/><stop offset="0.5000" stop-color="rgb(247, 194, 199)"/><stop offset="0.5250" stop-color="rgb(248, 204, 209)"/><stop offset="0.5500" stop-color="rgb(250, 214, 218)"/><stop offset="0.5750" stop-color="rgb(251, 224, 229)"/><stop offset="0.6000" stop-color="rgb(253, 236, 239)"/><stop offset="0.6250" stop-color="rgb(255, 250, 252)"/><stop offset="0.6500" stop-color="rgb(246, 247, 250)"/><stop offset="0.6750" stop-color="rgb(235, 236, 245)"/><stop offset="0.7000" stop-color="rgb(224, 225, 239)"/><stop offset="0.7250" stop-color="rgb(213, 215, 233)"/><stop offset="0.7500" stop-color="rgb(202, 204, 227)"/><stop offset="0.7750" stop-color="rgb(191, 194, 222)"/><stop offset="0.8000" stop-color="rgb(181, 183, 216)"/><stop offset="0.8250" stop-color="rgb(170, 173, 210)"/><stop offset="0.8500" stop-color="rgb(159, 162, 204)"/><stop offset="0.8750" stop-color="rgb(148, 152, 199)"/><stop offset="0.9000" stop-color="rgb(137, 141, 193)"/><stop offset="0.9250" stop-color="rgb(126, 131, 187)"/><stop offset="0.9500" stop-color="rgb(115, 120, 181)"/><stop offset="0.9750" stop-color="rgb(104, 110, 176)"/><stop offset="1.0000" stop-color="rgb(95, 101, 171)"/></linearGradient></defs>
<rect x="26.0" y="430.8" width="11.3" height="64.3" fill="url(#cb)"/>
<line x1="37.30" y1="430.80" x2="39.70" y2="430.80" stroke="#5a5a5a" stroke-width="0.75" stroke-linecap="butt"/>
<text x="42.50" y="433.60" font-size="8.0" fill="#222222">1.0</text>
<line x1="37.30" y1="451.03" x2="39.70" y2="451.03" stroke="#5a5a5a" stroke-width="0.75" stroke-linecap="butt"/>
<text x="42.50" y="453.83" font-size="8.0" fill="#222222">0.5</text>
<line x1="37.30" y1="471.27" x2="39.70" y2="471.27" stroke="#5a5a5a" stroke-width="0.75" stroke-linecap="butt"/>
<text x="42.50" y="474.07" font-size="8.0" fill="#222222">0.0</text>
<line x1="37.30" y1="491.50" x2="39.70" y2="491.50" stroke="#5a5a5a" stroke-width="0.75" stroke-linecap="butt"/>
<text x="42.50" y="494.30" font-size="8.0" fill="#222222">−0.5</text>
<text x="22.70" y="463.75" font-size="8.2" fill="#222222" text-anchor="middle" textLength="34.70" lengthAdjust="spacingAndGlyphs" transform="rotate(-90 22.70 463.75)">Pearson <tspan font-style="italic">r</tspan></text>
<line x1="329.50" y1="369.50" x2="329.50" y2="535.50" stroke="#5a5a5a" stroke-width="0.75" stroke-linecap="butt"/>
<line x1="326.30" y1="526.40" x2="329.50" y2="526.40" stroke="#5a5a5a" stroke-width="0.75" stroke-linecap="butt"/>
<text x="321.90" y="529.00" font-size="8.0" fill="#222222" text-anchor="end">0.05</text>
<line x1="326.30" y1="494.75" x2="329.50" y2="494.75" stroke="#5a5a5a" stroke-width="0.75" stroke-linecap="butt"/>
<text x="321.90" y="497.35" font-size="8.0" fill="#222222" text-anchor="end">0.10</text>
<line x1="326.30" y1="463.10" x2="329.50" y2="463.10" stroke="#5a5a5a" stroke-width="0.75" stroke-linecap="butt"/>
<text x="321.90" y="465.70" font-size="8.0" fill="#222222" text-anchor="end">0.15</text>
<line x1="326.30" y1="431.45" x2="329.50" y2="431.45" stroke="#5a5a5a" stroke-width="0.75" stroke-linecap="butt"/>
<text x="321.90" y="434.05" font-size="8.0" fill="#222222" text-anchor="end">0.20</text>
<line x1="326.30" y1="399.80" x2="329.50" y2="399.80" stroke="#5a5a5a" stroke-width="0.75" stroke-linecap="butt"/>
<text x="321.90" y="402.40" font-size="8.0" fill="#222222" text-anchor="end">0.25</text>
<line x1="329.50" y1="535.50" x2="490.80" y2="535.50" stroke="#5a5a5a" stroke-width="0.75" stroke-linecap="butt"/>
<line x1="333.70" y1="535.50" x2="333.70" y2="538.70" stroke="#5a5a5a" stroke-width="0.75" stroke-linecap="butt"/>
<text x="333.70" y="548.60" font-size="8.0" fill="#222222" text-anchor="middle">0</text>
<line x1="368.90" y1="535.50" x2="368.90" y2="538.70" stroke="#5a5a5a" stroke-width="0.75" stroke-linecap="butt"/>
<text x="368.90" y="548.60" font-size="8.0" fill="#222222" text-anchor="middle">0.1</text>
<line x1="404.10" y1="535.50" x2="404.10" y2="538.70" stroke="#5a5a5a" stroke-width="0.75" stroke-linecap="butt"/>
<text x="404.10" y="548.60" font-size="8.0" fill="#222222" text-anchor="middle">0.2</text>
<line x1="439.30" y1="535.50" x2="439.30" y2="538.70" stroke="#5a5a5a" stroke-width="0.75" stroke-linecap="butt"/>
<text x="439.30" y="548.60" font-size="8.0" fill="#222222" text-anchor="middle">0.3</text>
<line x1="474.50" y1="535.50" x2="474.50" y2="538.70" stroke="#5a5a5a" stroke-width="0.75" stroke-linecap="butt"/>
<text x="474.50" y="548.60" font-size="8.0" fill="#222222" text-anchor="middle">0.4</text>
<text x="413.05" y="561.00" font-size="8.4" fill="#222222" text-anchor="middle" textLength="148.90" lengthAdjust="spacingAndGlyphs">Observed responsive protein fraction</text>
<text x="301.80" y="453.10" font-size="8.4" fill="#222222" text-anchor="middle" textLength="150.80" lengthAdjust="spacingAndGlyphs" transform="rotate(-90 301.80 453.10)">Predicted responsive protein fraction</text>
<text x="393.80" y="515.80" font-size="8.4" fill="#222222" textLength="95.30" lengthAdjust="spacingAndGlyphs">Cross-validated <tspan font-style="italic">r</tspan> = 0.54</text>
<line x1="549.00" y1="364.50" x2="549.00" y2="525.30" stroke="#5a5a5a" stroke-width="0.75" stroke-linecap="butt"/>
<line x1="545.80" y1="382.40" x2="549.00" y2="382.40" stroke="#5a5a5a" stroke-width="0.75" stroke-linecap="butt"/>
<text x="541.60" y="385.00" font-size="8.0" fill="#222222" text-anchor="end">0.02</text>
<line x1="545.80" y1="412.35" x2="549.00" y2="412.35" stroke="#5a5a5a" stroke-width="0.75" stroke-linecap="butt"/>
<text x="541.60" y="414.95" font-size="8.0" fill="#222222" text-anchor="end">0.01</text>
<line x1="545.80" y1="442.30" x2="549.00" y2="442.30" stroke="#5a5a5a" stroke-width="0.75" stroke-linecap="butt"/>
<text x="541.60" y="444.90" font-size="8.0" fill="#222222" text-anchor="end">0</text>
<line x1="545.80" y1="472.25" x2="549.00" y2="472.25" stroke="#5a5a5a" stroke-width="0.75" stroke-linecap="butt"/>
<text x="541.60" y="474.85" font-size="8.0" fill="#222222" text-anchor="end">−0.01</text>
<line x1="545.80" y1="502.20" x2="549.00" y2="502.20" stroke="#5a5a5a" stroke-width="0.75" stroke-linecap="butt"/>
<text x="541.60" y="504.80" font-size="8.0" fill="#222222" text-anchor="end">−0.02</text>
<line x1="549.00" y1="525.30" x2="664.80" y2="525.30" stroke="#5a5a5a" stroke-width="0.75" stroke-linecap="butt"/>
<line x1="549.00" y1="442.30" x2="664.80" y2="442.30" stroke="#5a5a5a" stroke-width="0.75" stroke-linecap="butt"/>
<rect x="554.80" y="371.80" width="11.4" height="70.50" fill="#808080"/>
<line x1="560.50" y1="525.30" x2="560.50" y2="528.60" stroke="#5a5a5a" stroke-width="0.75" stroke-linecap="butt"/>
<text x="562.90" y="536.00" font-size="7.2" fill="#222222" text-anchor="end" textLength="18.50" lengthAdjust="spacingAndGlyphs" transform="rotate(-35 562.90 536.00)">|ΔpH|</text>
<rect x="577.90" y="410.49" width="11.4" height="31.81" fill="#808080"/>
<line x1="583.60" y1="525.30" x2="583.60" y2="528.60" stroke="#5a5a5a" stroke-width="0.75" stroke-linecap="butt"/>
<text x="586.00" y="536.00" font-size="7.2" fill="#222222" text-anchor="end" textLength="74.80" lengthAdjust="spacingAndGlyphs" transform="rotate(-35 586.00 536.00)">Phylogenetic distance</text>
<rect x="601.00" y="431.10" width="11.4" height="11.20" fill="#808080"/>
<line x1="606.70" y1="525.30" x2="606.70" y2="528.60" stroke="#5a5a5a" stroke-width="0.75" stroke-linecap="butt"/>
<text x="609.10" y="536.00" font-size="7.2" fill="#222222" text-anchor="end" textLength="54.50" lengthAdjust="spacingAndGlyphs" transform="rotate(-35 609.10 536.00)">|log<tspan font-size="5" dy="1.5">2</tspan><tspan dy="-1.5">(Δbiomass)|</tspan></text>
<rect x="624.20" y="442.30" width="11.4" height="37.41" fill="#808080"/>
<line x1="629.90" y1="525.30" x2="629.90" y2="528.60" stroke="#5a5a5a" stroke-width="0.75" stroke-linecap="butt"/>
<text x="632.30" y="536.00" font-size="7.2" fill="#222222" text-anchor="end" textLength="67.00" lengthAdjust="spacingAndGlyphs" transform="rotate(-35 632.30 536.00)">Relative abundance</text>
<rect x="647.60" y="442.30" width="11.4" height="75.80" fill="#808080"/>
<line x1="653.30" y1="525.30" x2="653.30" y2="528.60" stroke="#5a5a5a" stroke-width="0.75" stroke-linecap="butt"/>
<text x="655.70" y="536.00" font-size="7.2" fill="#222222" text-anchor="end" textLength="47.30" lengthAdjust="spacingAndGlyphs" transform="rotate(-35 655.70 536.00)">Proteome size</text>
<text x="520.80" y="444.85" font-size="8.4" fill="#222222" text-anchor="middle" textLength="74.50" lengthAdjust="spacingAndGlyphs" transform="rotate(-90 520.80 444.85)">Feature coefficient</text>
<path d="M209.90 44.80a1.1 1.1 0 1 0 2.2 0a1.1 1.1 0 1 0 -2.2 0zM209.90 48.60a1.1 1.1 0 1 0 2.2 0a1.1 1.1 0 1 0 -2.2 0zM209.90 57.80a1.1 1.1 0 1 0 2.2 0a1.1 1.1 0 1 0 -2.2 0zM209.90 64.70a1.1 1.1 0 1 0 2.2 0a1.1 1.1 0 1 0 -2.2 0zM209.90 67.30a1.1 1.1 0 1 0 2.2 0a1.1 1.1 0 1 0 -2.2 0zM209.90 69.10a1.1 1.1 0 1 0 2.2 0a1.1 1.1 0 1 0 -2.2 0zM209.90 78.00a1.1 1.1 0 1 0 2.2 0a1.1 1.1 0 1 0 -2.2 0zM209.90 86.30a1.1 1.1 0 1 0 2.2 0a1.1 1.1 0 1 0 -2.2 0zM209.90 90.60a1.1 1.1 0 1 0 2.2 0a1.1 1.1 0 1 0 -2.2 0zM209.90 92.20a1.1 1.1 0 1 0 2.2 0a1.1 1.1 0 1 0 -2.2 0zM209.90 94.00a1.1 1.1 0 1 0 2.2 0a1.1 1.1 0 1 0 -2.2 0zM209.90 98.80a1.1 1.1 0 1 0 2.2 0a1.1 1.1 0 1 0 -2.2 0zM209.90 110.20a1.1 1.1 0 1 0 2.2 0a1.1 1.1 0 1 0 -2.2 0zM221.20 67.60a1.1 1.1 0 1 0 2.2 0a1.1 1.1 0 1 0 -2.2 0zM221.20 68.50a1.1 1.1 0 1 0 2.2 0a1.1 1.1 0 1 0 -2.2 0zM221.20 73.70a1.1 1.1 0 1 0 2.2 0a1.1 1.1 0 1 0 -2.2 0zM221.20 75.20a1.1 1.1 0 1 0 2.2 0a1.1 1.1 0 1 0 -2.2 0zM221.20 76.50a1.1 1.1 0 1 0 2.2 0a1.1 1.1 0 1 0 -2.2 0zM221.20 77.30a1.1 1.1 0 1 0 2.2 0a1.1 1.1 0 1 0 -2.2 0zM221.20 82.80a1.1 1.1 0 1 0 2.2 0a1.1 1.1 0 1 0 -2.2 0zM221.20 85.70a1.1 1.1 0 1 0 2.2 0a1.1 1.1 0 1 0 -2.2 0zM221.20 96.50a1.1 1.1 0 1 0 2.2 0a1.1 1.1 0 1 0 -2.2 0zM221.20 98.80a1.1 1.1 0 1 0 2.2 0a1.1 1.1 0 1 0 -2.2 0zM221.20 104.50a1.1 1.1 0 1 0 2.2 0a1.1 1.1 0 1 0 -2.2 0zM221.20 117.70a1.1 1.1 0 1 0 2.2 0a1.1 1.1 0 1 0 -2.2 0zM223.50 51.60a1.1 1.1 0 1 0 2.2 0a1.1 1.1 0 1 0 -2.2 0zM223.50 53.20a1.1 1.1 0 1 0 2.2 0a1.1 1.1 0 1 0 -2.2 0zM223.50 54.80a1.1 1.1 0 1 0 2.2 0a1.1 1.1 0 1 0 -2.2 0zM223.50 56.40a1.1 1.1 0 1 0 2.2 0a1.1 1.1 0 1 0 -2.2 0zM223.50 67.60a1.1 1.1 0 1 0 2.2 0a1.1 1.1 0 1 0 -2.2 0zM223.50 69.10a1.1 1.1 0 1 0 2.2 0a1.1 1.1 0 1 0 -2.2 0zM223.50 74.90a1.1 1.1 0 1 0 2.2 0a1.1 1.1 0 1 0 -2.2 0zM223.50 85.70a1.1 1.1 0 1 0 2.2 0a1.1 1.1 0 1 0 -2.2 0zM223.50 89.10a1.1 1.1 0 1 0 2.2 0a1.1 1.1 0 1 0 -2.2 0zM223.50 91.40a1.1 1.1 0 1 0 2.2 0a1.1 1.1 0 1 0 -2.2 0zM223.50 97.70a1.1 1.1 0 1 0 2.2 0a1.1 1.1 0 1 0 -2.2 0zM223.50 100.50a1.1 1.1 0 1 0 2.2 0a1.1 1.1 0 1 0 -2.2 0zM223.50 110.50a1.1 1.1 0 1 0 2.2 0a1.1 1.1 0 1 0 -2.2 0zM240.20 17.80a1.1 1.1 0 1 0 2.2 0a1.1 1.1 0 1 0 -2.2 0zM240.20 31.60a1.1 1.1 0 1 0 2.2 0a1.1 1.1 0 1 0 -2.2 0zM240.20 43.20a1.1 1.1 0 1 0 2.2 0a1.1 1.1 0 1 0 -2.2 0zM240.20 45.30a1.1 1.1 0 1 0 2.2 0a1.1 1.1 0 1 0 -2.2 0zM240.20 56.70a1.1 1.1 0 1 0 2.2 0a1.1 1.1 0 1 0 -2.2 0zM240.20 58.80a1.1 1.1 0 1 0 2.2 0a1.1 1.1 0 1 0 -2.2 0zM240.20 69.70a1.1 1.1 0 1 0 2.2 0a1.1 1.1 0 1 0 -2.2 0zM240.20 84.00a1.1 1.1 0 1 0 2.2 0a1.1 1.1 0 1 0 -2.2 0zM240.20 103.40a1.1 1.1 0 1 0 2.2 0a1.1 1.1 0 1 0 -2.2 0zM240.20 104.50a1.1 1.1 0 1 0 2.2 0a1.1 1.1 0 1 0 -2.2 0zM240.20 117.30a1.1 1.1 0 1 0 2.2 0a1.1 1.1 0 1 0 -2.2 0zM252.80 73.10a1.1 1.1 0 1 0 2.2 0a1.1 1.1 0 1 0 -2.2 0zM252.80 87.50a1.1 1.1 0 1 0 2.2 0a1.1 1.1 0 1 0 -2.2 0zM252.80 89.50a1.1 1.1 0 1 0 2.2 0a1.1 1.1 0 1 0 -2.2 0zM252.80 91.50a1.1 1.1 0 1 0 2.2 0a1.1 1.1 0 1 0 -2.2 0zM252.80 93.50a1.1 1.1 0 1 0 2.2 0a1.1 1.1 0 1 0 -2.2 0zM252.80 95.50a1.1 1.1 0 1 0 2.2 0a1.1 1.1 0 1 0 -2.2 0zM252.80 100.00a1.1 1.1 0 1 0 2.2 0a1.1 1.1 0 1 0 -2.2 0zM252.80 101.70a1.1 1.1 0 1 0 2.2 0a1.1 1.1 0 1 0 -2.2 0zM252.80 108.80a1.1 1.1 0 1 0 2.2 0a1.1 1.1 0 1 0 -2.2 0zM252.80 122.80a1.1 1.1 0 1 0 2.2 0a1.1 1.1 0 1 0 -2.2 0zM261.80 19.70a1.1 1.1 0 1 0 2.2 0a1.1 1.1 0 1 0 -2.2 0zM261.80 65.90a1.1 1.1 0 1 0 2.2 0a1.1 1.1 0 1 0 -2.2 0zM261.80 68.20a1.1 1.1 0 1 0 2.2 0a1.1 1.1 0 1 0 -2.2 0zM261.80 70.40a1.1 1.1 0 1 0 2.2 0a1.1 1.1 0 1 0 -2.2 0zM261.80 82.80a1.1 1.1 0 1 0 2.2 0a1.1 1.1 0 1 0 -2.2 0zM261.80 86.80a1.1 1.1 0 1 0 2.2 0a1.1 1.1 0 1 0 -2.2 0zM261.80 90.80a1.1 1.1 0 1 0 2.2 0a1.1 1.1 0 1 0 -2.2 0zM261.80 94.30a1.1 1.1 0 1 0 2.2 0a1.1 1.1 0 1 0 -2.2 0zM261.80 96.50a1.1 1.1 0 1 0 2.2 0a1.1 1.1 0 1 0 -2.2 0zM261.80 98.80a1.1 1.1 0 1 0 2.2 0a1.1 1.1 0 1 0 -2.2 0zM261.80 101.10a1.1 1.1 0 1 0 2.2 0a1.1 1.1 0 1 0 -2.2 0zM261.80 107.40a1.1 1.1 0 1 0 2.2 0a1.1 1.1 0 1 0 -2.2 0zM261.80 117.90a1.1 1.1 0 1 0 2.2 0a1.1 1.1 0 1 0 -2.2 0zM265.40 33.30a1.1 1.1 0 1 0 2.2 0a1.1 1.1 0 1 0 -2.2 0zM265.40 48.00a1.1 1.1 0 1 0 2.2 0a1.1 1.1 0 1 0 -2.2 0zM265.40 57.10a1.1 1.1 0 1 0 2.2 0a1.1 1.1 0 1 0 -2.2 0zM265.40 62.00a1.1 1.1 0 1 0 2.2 0a1.1 1.1 0 1 0 -2.2 0zM265.40 67.60a1.1 1.1 0 1 0 2.2 0a1.1 1.1 0 1 0 -2.2 0zM265.40 74.50a1.1 1.1 0 1 0 2.2 0a1.1 1.1 0 1 0 -2.2 0zM265.40 78.90a1.1 1.1 0 1 0 2.2 0a1.1 1.1 0 1 0 -2.2 0zM265.40 82.90a1.1 1.1 0 1 0 2.2 0a1.1 1.1 0 1 0 -2.2 0zM265.40 86.90a1.1 1.1 0 1 0 2.2 0a1.1 1.1 0 1 0 -2.2 0zM265.40 90.30a1.1 1.1 0 1 0 2.2 0a1.1 1.1 0 1 0 -2.2 0zM265.40 104.60a1.1 1.1 0 1 0 2.2 0a1.1 1.1 0 1 0 -2.2 0zM265.40 114.30a1.1 1.1 0 1 0 2.2 0a1.1 1.1 0 1 0 -2.2 0zM265.40 118.30a1.1 1.1 0 1 0 2.2 0a1.1 1.1 0 1 0 -2.2 0zM271.80 69.80a1.1 1.1 0 1 0 2.2 0a1.1 1.1 0 1 0 -2.2 0zM271.80 76.00a1.1 1.1 0 1 0 2.2 0a1.1 1.1 0 1 0 -2.2 0zM271.80 82.30a1.1 1.1 0 1 0 2.2 0a1.1 1.1 0 1 0 -2.2 0zM271.80 90.30a1.1 1.1 0 1 0 2.2 0a1.1 1.1 0 1 0 -2.2 0zM271.80 92.00a1.1 1.1 0 1 0 2.2 0a1.1 1.1 0 1 0 -2.2 0zM271.80 94.00a1.1 1.1 0 1 0 2.2 0a1.1 1.1 0 1 0 -2.2 0zM271.80 96.00a1.1 1.1 0 1 0 2.2 0a1.1 1.1 0 1 0 -2.2 0zM271.80 98.90a1.1 1.1 0 1 0 2.2 0a1.1 1.1 0 1 0 -2.2 0zM271.80 101.70a1.1 1.1 0 1 0 2.2 0a1.1 1.1 0 1 0 -2.2 0zM271.80 111.40a1.1 1.1 0 1 0 2.2 0a1.1 1.1 0 1 0 -2.2 0zM271.80 113.70a1.1 1.1 0 1 0 2.2 0a1.1 1.1 0 1 0 -2.2 0zM271.80 116.00a1.1 1.1 0 1 0 2.2 0a1.1 1.1 0 1 0 -2.2 0zM276.20 53.70a1.1 1.1 0 1 0 2.2 0a1.1 1.1 0 1 0 -2.2 0zM276.20 55.60a1.1 1.1 0 1 0 2.2 0a1.1 1.1 0 1 0 -2.2 0zM276.20 57.10a1.1 1.1 0 1 0 2.2 0a1.1 1.1 0 1 0 -2.2 0zM276.20 58.70a1.1 1.1 0 1 0 2.2 0a1.1 1.1 0 1 0 -2.2 0zM276.20 63.70a1.1 1.1 0 1 0 2.2 0a1.1 1.1 0 1 0 -2.2 0zM276.20 68.10a1.1 1.1 0 1 0 2.2 0a1.1 1.1 0 1 0 -2.2 0zM276.20 76.60a1.1 1.1 0 1 0 2.2 0a1.1 1.1 0 1 0 -2.2 0zM276.20 82.30a1.1 1.1 0 1 0 2.2 0a1.1 1.1 0 1 0 -2.2 0zM276.20 85.70a1.1 1.1 0 1 0 2.2 0a1.1 1.1 0 1 0 -2.2 0zM276.20 91.40a1.1 1.1 0 1 0 2.2 0a1.1 1.1 0 1 0 -2.2 0zM276.20 102.30a1.1 1.1 0 1 0 2.2 0a1.1 1.1 0 1 0 -2.2 0zM276.20 110.30a1.1 1.1 0 1 0 2.2 0a1.1 1.1 0 1 0 -2.2 0zM281.90 45.70a1.1 1.1 0 1 0 2.2 0a1.1 1.1 0 1 0 -2.2 0zM281.90 57.80a1.1 1.1 0 1 0 2.2 0a1.1 1.1 0 1 0 -2.2 0zM281.90 69.80a1.1 1.1 0 1 0 2.2 0a1.1 1.1 0 1 0 -2.2 0zM281.90 76.00a1.1 1.1 0 1 0 2.2 0a1.1 1.1 0 1 0 -2.2 0zM281.90 78.90a1.1 1.1 0 1 0 2.2 0a1.1 1.1 0 1 0 -2.2 0zM281.90 80.60a1.1 1.1 0 1 0 2.2 0a1.1 1.1 0 1 0 -2.2 0zM281.90 82.30a1.1 1.1 0 1 0 2.2 0a1.1 1.1 0 1 0 -2.2 0zM281.90 85.10a1.1 1.1 0 1 0 2.2 0a1.1 1.1 0 1 0 -2.2 0zM281.90 88.00a1.1 1.1 0 1 0 2.2 0a1.1 1.1 0 1 0 -2.2 0zM281.90 90.30a1.1 1.1 0 1 0 2.2 0a1.1 1.1 0 1 0 -2.2 0zM281.90 92.60a1.1 1.1 0 1 0 2.2 0a1.1 1.1 0 1 0 -2.2 0zM281.90 96.00a1.1 1.1 0 1 0 2.2 0a1.1 1.1 0 1 0 -2.2 0zM281.90 100.60a1.1 1.1 0 1 0 2.2 0a1.1 1.1 0 1 0 -2.2 0zM281.90 101.70a1.1 1.1 0 1 0 2.2 0a1.1 1.1 0 1 0 -2.2 0zM281.90 105.10a1.1 1.1 0 1 0 2.2 0a1.1 1.1 0 1 0 -2.2 0zM281.90 107.40a1.1 1.1 0 1 0 2.2 0a1.1 1.1 0 1 0 -2.2 0zM281.90 110.30a1.1 1.1 0 1 0 2.2 0a1.1 1.1 0 1 0 -2.2 0zM281.90 113.70a1.1 1.1 0 1 0 2.2 0a1.1 1.1 0 1 0 -2.2 0zM281.90 116.60a1.1 1.1 0 1 0 2.2 0a1.1 1.1 0 1 0 -2.2 0zM281.90 120.60a1.1 1.1 0 1 0 2.2 0a1.1 1.1 0 1 0 -2.2 0zM281.90 124.00a1.1 1.1 0 1 0 2.2 0a1.1 1.1 0 1 0 -2.2 0zM281.90 126.90a1.1 1.1 0 1 0 2.2 0a1.1 1.1 0 1 0 -2.2 0zM295.00 71.50a1.1 1.1 0 1 0 2.2 0a1.1 1.1 0 1 0 -2.2 0zM295.00 88.60a1.1 1.1 0 1 0 2.2 0a1.1 1.1 0 1 0 -2.2 0zM295.00 89.70a1.1 1.1 0 1 0 2.2 0a1.1 1.1 0 1 0 -2.2 0zM295.00 94.90a1.1 1.1 0 1 0 2.2 0a1.1 1.1 0 1 0 -2.2 0zM295.00 107.40a1.1 1.1 0 1 0 2.2 0a1.1 1.1 0 1 0 -2.2 0zM295.00 112.60a1.1 1.1 0 1 0 2.2 0a1.1 1.1 0 1 0 -2.2 0zM295.00 114.30a1.1 1.1 0 1 0 2.2 0a1.1 1.1 0 1 0 -2.2 0zM295.00 120.60a1.1 1.1 0 1 0 2.2 0a1.1 1.1 0 1 0 -2.2 0zM295.00 121.70a1.1 1.1 0 1 0 2.2 0a1.1 1.1 0 1 0 -2.2 0zM295.00 124.00a1.1 1.1 0 1 0 2.2 0a1.1 1.1 0 1 0 -2.2 0zM320.60 91.40a1.1 1.1 0 1 0 2.2 0a1.1 1.1 0 1 0 -2.2 0zM320.60 97.10a1.1 1.1 0 1 0 2.2 0a1.1 1.1 0 1 0 -2.2 0zM320.60 102.30a1.1 1.1 0 1 0 2.2 0a1.1 1.1 0 1 0 -2.2 0zM320.60 105.70a1.1 1.1 0 1 0 2.2 0a1.1 1.1 0 1 0 -2.2 0zM320.60 107.20a1.1 1.1 0 1 0 2.2 0a1.1 1.1 0 1 0 -2.2 0zM320.60 108.80a1.1 1.1 0 1 0 2.2 0a1.1 1.1 0 1 0 -2.2 0zM320.60 110.30a1.1 1.1 0 1 0 2.2 0a1.1 1.1 0 1 0 -2.2 0zM320.60 112.00a1.1 1.1 0 1 0 2.2 0a1.1 1.1 0 1 0 -2.2 0zM320.60 113.50a1.1 1.1 0 1 0 2.2 0a1.1 1.1 0 1 0 -2.2 0zM320.60 114.90a1.1 1.1 0 1 0 2.2 0a1.1 1.1 0 1 0 -2.2 0zM320.60 117.70a1.1 1.1 0 1 0 2.2 0a1.1 1.1 0 1 0 -2.2 0zM320.60 121.10a1.1 1.1 0 1 0 2.2 0a1.1 1.1 0 1 0 -2.2 0zM320.60 126.90a1.1 1.1 0 1 0 2.2 0a1.1 1.1 0 1 0 -2.2 0zM320.60 128.00a1.1 1.1 0 1 0 2.2 0a1.1 1.1 0 1 0 -2.2 0zM266.60 82.90a1.1 1.1 0 1 0 2.2 0a1.1 1.1 0 1 0 -2.2 0zM268.40 86.30a1.1 1.1 0 1 0 2.2 0a1.1 1.1 0 1 0 -2.2 0zM267.10 89.10a1.1 1.1 0 1 0 2.2 0a1.1 1.1 0 1 0 -2.2 0zM269.00 91.00a1.1 1.1 0 1 0 2.2 0a1.1 1.1 0 1 0 -2.2 0zM266.80 92.60a1.1 1.1 0 1 0 2.2 0a1.1 1.1 0 1 0 -2.2 0zM268.10 94.30a1.1 1.1 0 1 0 2.2 0a1.1 1.1 0 1 0 -2.2 0zM269.30 97.10a1.1 1.1 0 1 0 2.2 0a1.1 1.1 0 1 0 -2.2 0zM266.90 98.80a1.1 1.1 0 1 0 2.2 0a1.1 1.1 0 1 0 -2.2 0zM268.50 100.60a1.1 1.1 0 1 0 2.2 0a1.1 1.1 0 1 0 -2.2 0zM266.70 102.30a1.1 1.1 0 1 0 2.2 0a1.1 1.1 0 1 0 -2.2 0zM269.10 105.70a1.1 1.1 0 1 0 2.2 0a1.1 1.1 0 1 0 -2.2 0zM267.30 107.20a1.1 1.1 0 1 0 2.2 0a1.1 1.1 0 1 0 -2.2 0zM268.70 108.80a1.1 1.1 0 1 0 2.2 0a1.1 1.1 0 1 0 -2.2 0zM266.80 110.30a1.1 1.1 0 1 0 2.2 0a1.1 1.1 0 1 0 -2.2 0zM269.40 113.70a1.1 1.1 0 1 0 2.2 0a1.1 1.1 0 1 0 -2.2 0zM267.50 116.00a1.1 1.1 0 1 0 2.2 0a1.1 1.1 0 1 0 -2.2 0zM268.80 118.30a1.1 1.1 0 1 0 2.2 0a1.1 1.1 0 1 0 -2.2 0zM267.20 120.60a1.1 1.1 0 1 0 2.2 0a1.1 1.1 0 1 0 -2.2 0z" fill="#3a3a3a"/>
<path d="M417.80 20.00a1.1 1.1 0 1 0 2.2 0a1.1 1.1 0 1 0 -2.2 0zM441.50 17.90a1.1 1.1 0 1 0 2.2 0a1.1 1.1 0 1 0 -2.2 0zM444.30 33.50a1.1 1.1 0 1 0 2.2 0a1.1 1.1 0 1 0 -2.2 0zM396.60 45.80a1.1 1.1 0 1 0 2.2 0a1.1 1.1 0 1 0 -2.2 0zM394.60 48.50a1.1 1.1 0 1 0 2.2 0a1.1 1.1 0 1 0 -2.2 0zM400.90 44.80a1.1 1.1 0 1 0 2.2 0a1.1 1.1 0 1 0 -2.2 0zM413.10 44.00a1.1 1.1 0 1 0 2.2 0a1.1 1.1 0 1 0 -2.2 0zM421.70 44.90a1.1 1.1 0 1 0 2.2 0a1.1 1.1 0 1 0 -2.2 0zM438.40 48.30a1.1 1.1 0 1 0 2.2 0a1.1 1.1 0 1 0 -2.2 0zM391.70 52.00a1.1 1.1 0 1 0 2.2 0a1.1 1.1 0 1 0 -2.2 0zM410.90 53.80a1.1 1.1 0 1 0 2.2 0a1.1 1.1 0 1 0 -2.2 0zM423.40 53.80a1.1 1.1 0 1 0 2.2 0a1.1 1.1 0 1 0 -2.2 0zM392.30 56.00a1.1 1.1 0 1 0 2.2 0a1.1 1.1 0 1 0 -2.2 0zM392.30 58.40a1.1 1.1 0 1 0 2.2 0a1.1 1.1 0 1 0 -2.2 0zM400.70 58.30a1.1 1.1 0 1 0 2.2 0a1.1 1.1 0 1 0 -2.2 0zM404.80 57.00a1.1 1.1 0 1 0 2.2 0a1.1 1.1 0 1 0 -2.2 0zM405.90 57.90a1.1 1.1 0 1 0 2.2 0a1.1 1.1 0 1 0 -2.2 0zM429.30 57.00a1.1 1.1 0 1 0 2.2 0a1.1 1.1 0 1 0 -2.2 0zM429.50 59.20a1.1 1.1 0 1 0 2.2 0a1.1 1.1 0 1 0 -2.2 0zM438.40 57.60a1.1 1.1 0 1 0 2.2 0a1.1 1.1 0 1 0 -2.2 0zM438.60 62.60a1.1 1.1 0 1 0 2.2 0a1.1 1.1 0 1 0 -2.2 0zM420.60 64.00a1.1 1.1 0 1 0 2.2 0a1.1 1.1 0 1 0 -2.2 0zM394.90 65.30a1.1 1.1 0 1 0 2.2 0a1.1 1.1 0 1 0 -2.2 0zM395.90 68.80a1.1 1.1 0 1 0 2.2 0a1.1 1.1 0 1 0 -2.2 0zM398.90 68.00a1.1 1.1 0 1 0 2.2 0a1.1 1.1 0 1 0 -2.2 0zM400.00 68.30a1.1 1.1 0 1 0 2.2 0a1.1 1.1 0 1 0 -2.2 0zM401.90 70.50a1.1 1.1 0 1 0 2.2 0a1.1 1.1 0 1 0 -2.2 0zM389.80 70.70a1.1 1.1 0 1 0 2.2 0a1.1 1.1 0 1 0 -2.2 0zM413.20 68.60a1.1 1.1 0 1 0 2.2 0a1.1 1.1 0 1 0 -2.2 0zM418.20 69.20a1.1 1.1 0 1 0 2.2 0a1.1 1.1 0 1 0 -2.2 0zM424.10 70.50a1.1 1.1 0 1 0 2.2 0a1.1 1.1 0 1 0 -2.2 0zM425.20 70.20a1.1 1.1 0 1 0 2.2 0a1.1 1.1 0 1 0 -2.2 0zM434.60 68.10a1.1 1.1 0 1 0 2.2 0a1.1 1.1 0 1 0 -2.2 0zM435.40 70.70a1.1 1.1 0 1 0 2.2 0a1.1 1.1 0 1 0 -2.2 0zM438.90 67.80a1.1 1.1 0 1 0 2.2 0a1.1 1.1 0 1 0 -2.2 0zM442.40 70.80a1.1 1.1 0 1 0 2.2 0a1.1 1.1 0 1 0 -2.2 0zM390.90 73.70a1.1 1.1 0 1 0 2.2 0a1.1 1.1 0 1 0 -2.2 0zM415.00 73.70a1.1 1.1 0 1 0 2.2 0a1.1 1.1 0 1 0 -2.2 0zM400.50 74.00a1.1 1.1 0 1 0 2.2 0a1.1 1.1 0 1 0 -2.2 0zM487.90 31.80a1.1 1.1 0 1 0 2.2 0a1.1 1.1 0 1 0 -2.2 0zM471.30 43.40a1.1 1.1 0 1 0 2.2 0a1.1 1.1 0 1 0 -2.2 0zM466.40 57.00a1.1 1.1 0 1 0 2.2 0a1.1 1.1 0 1 0 -2.2 0zM475.00 64.60a1.1 1.1 0 1 0 2.2 0a1.1 1.1 0 1 0 -2.2 0zM482.00 66.20a1.1 1.1 0 1 0 2.2 0a1.1 1.1 0 1 0 -2.2 0zM447.70 69.90a1.1 1.1 0 1 0 2.2 0a1.1 1.1 0 1 0 -2.2 0zM462.10 67.80a1.1 1.1 0 1 0 2.2 0a1.1 1.1 0 1 0 -2.2 0zM463.20 71.70a1.1 1.1 0 1 0 2.2 0a1.1 1.1 0 1 0 -2.2 0zM470.70 69.90a1.1 1.1 0 1 0 2.2 0a1.1 1.1 0 1 0 -2.2 0zM453.60 73.50a1.1 1.1 0 1 0 2.2 0a1.1 1.1 0 1 0 -2.2 0zM390.90 73.90a1.1 1.1 0 1 0 2.2 0a1.1 1.1 0 1 0 -2.2 0zM400.30 74.40a1.1 1.1 0 1 0 2.2 0a1.1 1.1 0 1 0 -2.2 0zM403.70 75.20a1.1 1.1 0 1 0 2.2 0a1.1 1.1 0 1 0 -2.2 0zM415.00 74.40a1.1 1.1 0 1 0 2.2 0a1.1 1.1 0 1 0 -2.2 0zM416.10 76.10a1.1 1.1 0 1 0 2.2 0a1.1 1.1 0 1 0 -2.2 0zM419.10 77.60a1.1 1.1 0 1 0 2.2 0a1.1 1.1 0 1 0 -2.2 0zM426.80 75.20a1.1 1.1 0 1 0 2.2 0a1.1 1.1 0 1 0 -2.2 0zM391.20 78.70a1.1 1.1 0 1 0 2.2 0a1.1 1.1 0 1 0 -2.2 0zM395.20 78.20a1.1 1.1 0 1 0 2.2 0a1.1 1.1 0 1 0 -2.2 0zM398.90 76.80a1.1 1.1 0 1 0 2.2 0a1.1 1.1 0 1 0 -2.2 0zM400.00 76.30a1.1 1.1 0 1 0 2.2 0a1.1 1.1 0 1 0 -2.2 0zM437.00 79.30a1.1 1.1 0 1 0 2.2 0a1.1 1.1 0 1 0 -2.2 0zM439.70 80.00a1.1 1.1 0 1 0 2.2 0a1.1 1.1 0 1 0 -2.2 0zM395.90 82.50a1.1 1.1 0 1 0 2.2 0a1.1 1.1 0 1 0 -2.2 0zM398.70 82.90a1.1 1.1 0 1 0 2.2 0a1.1 1.1 0 1 0 -2.2 0zM400.50 85.70a1.1 1.1 0 1 0 2.2 0a1.1 1.1 0 1 0 -2.2 0zM402.30 85.90a1.1 1.1 0 1 0 2.2 0a1.1 1.1 0 1 0 -2.2 0zM407.30 86.70a1.1 1.1 0 1 0 2.2 0a1.1 1.1 0 1 0 -2.2 0zM418.80 83.60a1.1 1.1 0 1 0 2.2 0a1.1 1.1 0 1 0 -2.2 0zM431.10 83.30a1.1 1.1 0 1 0 2.2 0a1.1 1.1 0 1 0 -2.2 0zM430.00 85.70a1.1 1.1 0 1 0 2.2 0a1.1 1.1 0 1 0 -2.2 0zM436.50 87.60a1.1 1.1 0 1 0 2.2 0a1.1 1.1 0 1 0 -2.2 0zM443.40 85.70a1.1 1.1 0 1 0 2.2 0a1.1 1.1 0 1 0 -2.2 0zM419.30 87.90a1.1 1.1 0 1 0 2.2 0a1.1 1.1 0 1 0 -2.2 0zM413.40 89.40a1.1 1.1 0 1 0 2.2 0a1.1 1.1 0 1 0 -2.2 0zM394.10 90.80a1.1 1.1 0 1 0 2.2 0a1.1 1.1 0 1 0 -2.2 0zM395.70 91.50a1.1 1.1 0 1 0 2.2 0a1.1 1.1 0 1 0 -2.2 0zM398.20 91.10a1.1 1.1 0 1 0 2.2 0a1.1 1.1 0 1 0 -2.2 0zM400.50 94.00a1.1 1.1 0 1 0 2.2 0a1.1 1.1 0 1 0 -2.2 0zM401.90 93.20a1.1 1.1 0 1 0 2.2 0a1.1 1.1 0 1 0 -2.2 0zM403.40 92.90a1.1 1.1 0 1 0 2.2 0a1.1 1.1 0 1 0 -2.2 0zM407.70 91.10a1.1 1.1 0 1 0 2.2 0a1.1 1.1 0 1 0 -2.2 0zM409.10 93.20a1.1 1.1 0 1 0 2.2 0a1.1 1.1 0 1 0 -2.2 0zM418.80 91.60a1.1 1.1 0 1 0 2.2 0a1.1 1.1 0 1 0 -2.2 0zM429.50 93.20a1.1 1.1 0 1 0 2.2 0a1.1 1.1 0 1 0 -2.2 0zM433.20 91.80a1.1 1.1 0 1 0 2.2 0a1.1 1.1 0 1 0 -2.2 0zM434.90 94.00a1.1 1.1 0 1 0 2.2 0a1.1 1.1 0 1 0 -2.2 0zM403.00 98.00a1.1 1.1 0 1 0 2.2 0a1.1 1.1 0 1 0 -2.2 0zM410.00 96.90a1.1 1.1 0 1 0 2.2 0a1.1 1.1 0 1 0 -2.2 0zM417.40 98.00a1.1 1.1 0 1 0 2.2 0a1.1 1.1 0 1 0 -2.2 0zM422.50 95.80a1.1 1.1 0 1 0 2.2 0a1.1 1.1 0 1 0 -2.2 0zM423.80 97.20a1.1 1.1 0 1 0 2.2 0a1.1 1.1 0 1 0 -2.2 0zM423.80 99.40a1.1 1.1 0 1 0 2.2 0a1.1 1.1 0 1 0 -2.2 0zM440.70 96.50a1.1 1.1 0 1 0 2.2 0a1.1 1.1 0 1 0 -2.2 0zM410.70 100.10a1.1 1.1 0 1 0 2.2 0a1.1 1.1 0 1 0 -2.2 0zM411.60 101.80a1.1 1.1 0 1 0 2.2 0a1.1 1.1 0 1 0 -2.2 0zM412.30 103.30a1.1 1.1 0 1 0 2.2 0a1.1 1.1 0 1 0 -2.2 0zM417.70 101.50a1.1 1.1 0 1 0 2.2 0a1.1 1.1 0 1 0 -2.2 0zM419.10 101.00a1.1 1.1 0 1 0 2.2 0a1.1 1.1 0 1 0 -2.2 0zM430.00 100.10a1.1 1.1 0 1 0 2.2 0a1.1 1.1 0 1 0 -2.2 0zM431.60 102.90a1.1 1.1 0 1 0 2.2 0a1.1 1.1 0 1 0 -2.2 0zM437.00 103.60a1.1 1.1 0 1 0 2.2 0a1.1 1.1 0 1 0 -2.2 0zM400.90 105.30a1.1 1.1 0 1 0 2.2 0a1.1 1.1 0 1 0 -2.2 0zM439.10 106.50a1.1 1.1 0 1 0 2.2 0a1.1 1.1 0 1 0 -2.2 0zM442.40 107.20a1.1 1.1 0 1 0 2.2 0a1.1 1.1 0 1 0 -2.2 0zM395.70 108.70a1.1 1.1 0 1 0 2.2 0a1.1 1.1 0 1 0 -2.2 0zM397.00 110.60a1.1 1.1 0 1 0 2.2 0a1.1 1.1 0 1 0 -2.2 0zM414.80 109.80a1.1 1.1 0 1 0 2.2 0a1.1 1.1 0 1 0 -2.2 0zM418.40 110.10a1.1 1.1 0 1 0 2.2 0a1.1 1.1 0 1 0 -2.2 0zM420.60 113.00a1.1 1.1 0 1 0 2.2 0a1.1 1.1 0 1 0 -2.2 0zM427.30 108.30a1.1 1.1 0 1 0 2.2 0a1.1 1.1 0 1 0 -2.2 0zM428.40 107.70a1.1 1.1 0 1 0 2.2 0a1.1 1.1 0 1 0 -2.2 0zM445.30 113.60a1.1 1.1 0 1 0 2.2 0a1.1 1.1 0 1 0 -2.2 0zM427.30 118.10a1.1 1.1 0 1 0 2.2 0a1.1 1.1 0 1 0 -2.2 0zM429.80 116.80a1.1 1.1 0 1 0 2.2 0a1.1 1.1 0 1 0 -2.2 0zM453.60 73.90a1.1 1.1 0 1 0 2.2 0a1.1 1.1 0 1 0 -2.2 0zM463.00 72.20a1.1 1.1 0 1 0 2.2 0a1.1 1.1 0 1 0 -2.2 0zM476.60 76.30a1.1 1.1 0 1 0 2.2 0a1.1 1.1 0 1 0 -2.2 0zM470.70 79.30a1.1 1.1 0 1 0 2.2 0a1.1 1.1 0 1 0 -2.2 0zM486.30 80.40a1.1 1.1 0 1 0 2.2 0a1.1 1.1 0 1 0 -2.2 0zM448.40 82.90a1.1 1.1 0 1 0 2.2 0a1.1 1.1 0 1 0 -2.2 0zM453.00 82.40a1.1 1.1 0 1 0 2.2 0a1.1 1.1 0 1 0 -2.2 0zM458.20 82.40a1.1 1.1 0 1 0 2.2 0a1.1 1.1 0 1 0 -2.2 0zM472.30 82.90a1.1 1.1 0 1 0 2.2 0a1.1 1.1 0 1 0 -2.2 0zM478.80 82.40a1.1 1.1 0 1 0 2.2 0a1.1 1.1 0 1 0 -2.2 0zM488.90 84.00a1.1 1.1 0 1 0 2.2 0a1.1 1.1 0 1 0 -2.2 0zM447.70 87.90a1.1 1.1 0 1 0 2.2 0a1.1 1.1 0 1 0 -2.2 0zM451.20 88.90a1.1 1.1 0 1 0 2.2 0a1.1 1.1 0 1 0 -2.2 0zM453.00 88.30a1.1 1.1 0 1 0 2.2 0a1.1 1.1 0 1 0 -2.2 0zM479.50 87.30a1.1 1.1 0 1 0 2.2 0a1.1 1.1 0 1 0 -2.2 0zM485.20 88.30a1.1 1.1 0 1 0 2.2 0a1.1 1.1 0 1 0 -2.2 0zM489.50 87.60a1.1 1.1 0 1 0 2.2 0a1.1 1.1 0 1 0 -2.2 0zM489.50 89.70a1.1 1.1 0 1 0 2.2 0a1.1 1.1 0 1 0 -2.2 0zM491.10 91.80a1.1 1.1 0 1 0 2.2 0a1.1 1.1 0 1 0 -2.2 0zM495.40 90.80a1.1 1.1 0 1 0 2.2 0a1.1 1.1 0 1 0 -2.2 0zM500.50 91.80a1.1 1.1 0 1 0 2.2 0a1.1 1.1 0 1 0 -2.2 0zM460.50 92.40a1.1 1.1 0 1 0 2.2 0a1.1 1.1 0 1 0 -2.2 0zM464.80 91.30a1.1 1.1 0 1 0 2.2 0a1.1 1.1 0 1 0 -2.2 0zM467.30 90.00a1.1 1.1 0 1 0 2.2 0a1.1 1.1 0 1 0 -2.2 0zM472.00 89.70a1.1 1.1 0 1 0 2.2 0a1.1 1.1 0 1 0 -2.2 0zM468.40 94.00a1.1 1.1 0 1 0 2.2 0a1.1 1.1 0 1 0 -2.2 0zM473.70 93.20a1.1 1.1 0 1 0 2.2 0a1.1 1.1 0 1 0 -2.2 0zM475.00 94.70a1.1 1.1 0 1 0 2.2 0a1.1 1.1 0 1 0 -2.2 0zM448.70 95.10a1.1 1.1 0 1 0 2.2 0a1.1 1.1 0 1 0 -2.2 0zM446.60 97.70a1.1 1.1 0 1 0 2.2 0a1.1 1.1 0 1 0 -2.2 0zM450.30 97.70a1.1 1.1 0 1 0 2.2 0a1.1 1.1 0 1 0 -2.2 0zM450.90 99.70a1.1 1.1 0 1 0 2.2 0a1.1 1.1 0 1 0 -2.2 0zM451.40 101.50a1.1 1.1 0 1 0 2.2 0a1.1 1.1 0 1 0 -2.2 0zM451.60 102.90a1.1 1.1 0 1 0 2.2 0a1.1 1.1 0 1 0 -2.2 0zM454.60 101.00a1.1 1.1 0 1 0 2.2 0a1.1 1.1 0 1 0 -2.2 0zM455.20 104.40a1.1 1.1 0 1 0 2.2 0a1.1 1.1 0 1 0 -2.2 0zM459.80 100.10a1.1 1.1 0 1 0 2.2 0a1.1 1.1 0 1 0 -2.2 0zM461.90 101.20a1.1 1.1 0 1 0 2.2 0a1.1 1.1 0 1 0 -2.2 0zM459.80 104.70a1.1 1.1 0 1 0 2.2 0a1.1 1.1 0 1 0 -2.2 0zM460.20 106.30a1.1 1.1 0 1 0 2.2 0a1.1 1.1 0 1 0 -2.2 0zM469.60 101.50a1.1 1.1 0 1 0 2.2 0a1.1 1.1 0 1 0 -2.2 0zM471.30 100.40a1.1 1.1 0 1 0 2.2 0a1.1 1.1 0 1 0 -2.2 0zM487.30 97.70a1.1 1.1 0 1 0 2.2 0a1.1 1.1 0 1 0 -2.2 0zM489.50 96.90a1.1 1.1 0 1 0 2.2 0a1.1 1.1 0 1 0 -2.2 0zM493.80 95.80a1.1 1.1 0 1 0 2.2 0a1.1 1.1 0 1 0 -2.2 0zM495.40 95.10a1.1 1.1 0 1 0 2.2 0a1.1 1.1 0 1 0 -2.2 0zM490.00 101.20a1.1 1.1 0 1 0 2.2 0a1.1 1.1 0 1 0 -2.2 0zM466.40 105.60a1.1 1.1 0 1 0 2.2 0a1.1 1.1 0 1 0 -2.2 0zM470.20 107.40a1.1 1.1 0 1 0 2.2 0a1.1 1.1 0 1 0 -2.2 0zM477.40 104.70a1.1 1.1 0 1 0 2.2 0a1.1 1.1 0 1 0 -2.2 0zM484.40 106.50a1.1 1.1 0 1 0 2.2 0a1.1 1.1 0 1 0 -2.2 0zM489.20 107.20a1.1 1.1 0 1 0 2.2 0a1.1 1.1 0 1 0 -2.2 0zM498.40 107.70a1.1 1.1 0 1 0 2.2 0a1.1 1.1 0 1 0 -2.2 0zM455.20 110.40a1.1 1.1 0 1 0 2.2 0a1.1 1.1 0 1 0 -2.2 0zM466.20 110.60a1.1 1.1 0 1 0 2.2 0a1.1 1.1 0 1 0 -2.2 0zM471.60 110.40a1.1 1.1 0 1 0 2.2 0a1.1 1.1 0 1 0 -2.2 0zM476.60 109.00a1.1 1.1 0 1 0 2.2 0a1.1 1.1 0 1 0 -2.2 0zM489.50 110.40a1.1 1.1 0 1 0 2.2 0a1.1 1.1 0 1 0 -2.2 0zM492.70 111.90a1.1 1.1 0 1 0 2.2 0a1.1 1.1 0 1 0 -2.2 0zM491.60 113.30a1.1 1.1 0 1 0 2.2 0a1.1 1.1 0 1 0 -2.2 0zM493.50 112.50a1.1 1.1 0 1 0 2.2 0a1.1 1.1 0 1 0 -2.2 0zM498.10 113.00a1.1 1.1 0 1 0 2.2 0a1.1 1.1 0 1 0 -2.2 0zM445.80 113.60a1.1 1.1 0 1 0 2.2 0a1.1 1.1 0 1 0 -2.2 0zM456.80 114.40a1.1 1.1 0 1 0 2.2 0a1.1 1.1 0 1 0 -2.2 0zM460.50 116.00a1.1 1.1 0 1 0 2.2 0a1.1 1.1 0 1 0 -2.2 0zM477.20 114.70a1.1 1.1 0 1 0 2.2 0a1.1 1.1 0 1 0 -2.2 0zM478.80 114.00a1.1 1.1 0 1 0 2.2 0a1.1 1.1 0 1 0 -2.2 0zM487.90 114.40a1.1 1.1 0 1 0 2.2 0a1.1 1.1 0 1 0 -2.2 0zM451.40 117.60a1.1 1.1 0 1 0 2.2 0a1.1 1.1 0 1 0 -2.2 0zM480.90 117.60a1.1 1.1 0 1 0 2.2 0a1.1 1.1 0 1 0 -2.2 0zM482.50 118.30a1.1 1.1 0 1 0 2.2 0a1.1 1.1 0 1 0 -2.2 0zM494.30 117.00a1.1 1.1 0 1 0 2.2 0a1.1 1.1 0 1 0 -2.2 0zM493.80 119.20a1.1 1.1 0 1 0 2.2 0a1.1 1.1 0 1 0 -2.2 0zM486.80 120.80a1.1 1.1 0 1 0 2.2 0a1.1 1.1 0 1 0 -2.2 0zM493.80 121.60a1.1 1.1 0 1 0 2.2 0a1.1 1.1 0 1 0 -2.2 0zM498.10 120.50a1.1 1.1 0 1 0 2.2 0a1.1 1.1 0 1 0 -2.2 0zM499.10 120.80a1.1 1.1 0 1 0 2.2 0a1.1 1.1 0 1 0 -2.2 0zM458.40 121.60a1.1 1.1 0 1 0 2.2 0a1.1 1.1 0 1 0 -2.2 0zM472.00 123.00a1.1 1.1 0 1 0 2.2 0a1.1 1.1 0 1 0 -2.2 0zM465.90 124.00a1.1 1.1 0 1 0 2.2 0a1.1 1.1 0 1 0 -2.2 0zM491.60 124.00a1.1 1.1 0 1 0 2.2 0a1.1 1.1 0 1 0 -2.2 0zM489.50 127.20a1.1 1.1 0 1 0 2.2 0a1.1 1.1 0 1 0 -2.2 0zM494.80 126.90a1.1 1.1 0 1 0 2.2 0a1.1 1.1 0 1 0 -2.2 0zM498.80 127.80a1.1 1.1 0 1 0 2.2 0a1.1 1.1 0 1 0 -2.2 0z" fill="#3a3a3a"/>
<path d="M576.90 17.60a1.1 1.1 0 1 0 2.2 0a1.1 1.1 0 1 0 -2.2 0zM599.40 19.80a1.1 1.1 0 1 0 2.2 0a1.1 1.1 0 1 0 -2.2 0zM579.30 31.50a1.1 1.1 0 1 0 2.2 0a1.1 1.1 0 1 0 -2.2 0zM572.00 33.20a1.1 1.1 0 1 0 2.2 0a1.1 1.1 0 1 0 -2.2 0zM574.80 43.10a1.1 1.1 0 1 0 2.2 0a1.1 1.1 0 1 0 -2.2 0zM585.70 44.70a1.1 1.1 0 1 0 2.2 0a1.1 1.1 0 1 0 -2.2 0zM601.80 43.60a1.1 1.1 0 1 0 2.2 0a1.1 1.1 0 1 0 -2.2 0zM602.10 45.60a1.1 1.1 0 1 0 2.2 0a1.1 1.1 0 1 0 -2.2 0zM616.30 44.50a1.1 1.1 0 1 0 2.2 0a1.1 1.1 0 1 0 -2.2 0zM577.30 48.30a1.1 1.1 0 1 0 2.2 0a1.1 1.1 0 1 0 -2.2 0zM589.30 47.90a1.1 1.1 0 1 0 2.2 0a1.1 1.1 0 1 0 -2.2 0zM573.90 53.80a1.1 1.1 0 1 0 2.2 0a1.1 1.1 0 1 0 -2.2 0zM597.70 51.90a1.1 1.1 0 1 0 2.2 0a1.1 1.1 0 1 0 -2.2 0zM571.80 56.80a1.1 1.1 0 1 0 2.2 0a1.1 1.1 0 1 0 -2.2 0zM577.70 57.60a1.1 1.1 0 1 0 2.2 0a1.1 1.1 0 1 0 -2.2 0zM588.70 57.80a1.1 1.1 0 1 0 2.2 0a1.1 1.1 0 1 0 -2.2 0zM593.80 59.20a1.1 1.1 0 1 0 2.2 0a1.1 1.1 0 1 0 -2.2 0zM598.60 56.80a1.1 1.1 0 1 0 2.2 0a1.1 1.1 0 1 0 -2.2 0zM600.50 56.00a1.1 1.1 0 1 0 2.2 0a1.1 1.1 0 1 0 -2.2 0zM604.80 57.00a1.1 1.1 0 1 0 2.2 0a1.1 1.1 0 1 0 -2.2 0zM572.90 66.20a1.1 1.1 0 1 0 2.2 0a1.1 1.1 0 1 0 -2.2 0zM577.30 64.60a1.1 1.1 0 1 0 2.2 0a1.1 1.1 0 1 0 -2.2 0zM596.40 65.10a1.1 1.1 0 1 0 2.2 0a1.1 1.1 0 1 0 -2.2 0zM611.20 62.40a1.1 1.1 0 1 0 2.2 0a1.1 1.1 0 1 0 -2.2 0zM611.00 64.00a1.1 1.1 0 1 0 2.2 0a1.1 1.1 0 1 0 -2.2 0zM569.80 70.50a1.1 1.1 0 1 0 2.2 0a1.1 1.1 0 1 0 -2.2 0zM574.70 70.10a1.1 1.1 0 1 0 2.2 0a1.1 1.1 0 1 0 -2.2 0zM581.10 70.10a1.1 1.1 0 1 0 2.2 0a1.1 1.1 0 1 0 -2.2 0zM585.70 67.80a1.1 1.1 0 1 0 2.2 0a1.1 1.1 0 1 0 -2.2 0zM587.60 70.50a1.1 1.1 0 1 0 2.2 0a1.1 1.1 0 1 0 -2.2 0zM589.50 68.00a1.1 1.1 0 1 0 2.2 0a1.1 1.1 0 1 0 -2.2 0zM590.50 69.40a1.1 1.1 0 1 0 2.2 0a1.1 1.1 0 1 0 -2.2 0zM592.70 68.00a1.1 1.1 0 1 0 2.2 0a1.1 1.1 0 1 0 -2.2 0zM593.00 71.50a1.1 1.1 0 1 0 2.2 0a1.1 1.1 0 1 0 -2.2 0zM597.00 70.20a1.1 1.1 0 1 0 2.2 0a1.1 1.1 0 1 0 -2.2 0zM608.20 70.50a1.1 1.1 0 1 0 2.2 0a1.1 1.1 0 1 0 -2.2 0zM612.00 68.80a1.1 1.1 0 1 0 2.2 0a1.1 1.1 0 1 0 -2.2 0zM613.80 67.80a1.1 1.1 0 1 0 2.2 0a1.1 1.1 0 1 0 -2.2 0zM619.80 68.30a1.1 1.1 0 1 0 2.2 0a1.1 1.1 0 1 0 -2.2 0zM588.40 73.40a1.1 1.1 0 1 0 2.2 0a1.1 1.1 0 1 0 -2.2 0zM620.00 72.00a1.1 1.1 0 1 0 2.2 0a1.1 1.1 0 1 0 -2.2 0zM625.10 53.60a1.1 1.1 0 1 0 2.2 0a1.1 1.1 0 1 0 -2.2 0zM636.90 58.30a1.1 1.1 0 1 0 2.2 0a1.1 1.1 0 1 0 -2.2 0zM658.10 58.70a1.1 1.1 0 1 0 2.2 0a1.1 1.1 0 1 0 -2.2 0zM632.90 73.70a1.1 1.1 0 1 0 2.2 0a1.1 1.1 0 1 0 -2.2 0zM653.80 73.70a1.1 1.1 0 1 0 2.2 0a1.1 1.1 0 1 0 -2.2 0zM564.00 76.30a1.1 1.1 0 1 0 2.2 0a1.1 1.1 0 1 0 -2.2 0zM566.40 76.50a1.1 1.1 0 1 0 2.2 0a1.1 1.1 0 1 0 -2.2 0zM578.00 75.20a1.1 1.1 0 1 0 2.2 0a1.1 1.1 0 1 0 -2.2 0zM579.10 76.50a1.1 1.1 0 1 0 2.2 0a1.1 1.1 0 1 0 -2.2 0zM588.10 73.60a1.1 1.1 0 1 0 2.2 0a1.1 1.1 0 1 0 -2.2 0zM588.70 77.40a1.1 1.1 0 1 0 2.2 0a1.1 1.1 0 1 0 -2.2 0zM593.00 72.00a1.1 1.1 0 1 0 2.2 0a1.1 1.1 0 1 0 -2.2 0zM593.40 75.20a1.1 1.1 0 1 0 2.2 0a1.1 1.1 0 1 0 -2.2 0zM594.10 76.80a1.1 1.1 0 1 0 2.2 0a1.1 1.1 0 1 0 -2.2 0zM569.30 80.40a1.1 1.1 0 1 0 2.2 0a1.1 1.1 0 1 0 -2.2 0zM580.70 79.30a1.1 1.1 0 1 0 2.2 0a1.1 1.1 0 1 0 -2.2 0zM584.40 79.70a1.1 1.1 0 1 0 2.2 0a1.1 1.1 0 1 0 -2.2 0zM606.60 77.90a1.1 1.1 0 1 0 2.2 0a1.1 1.1 0 1 0 -2.2 0zM607.00 79.30a1.1 1.1 0 1 0 2.2 0a1.1 1.1 0 1 0 -2.2 0zM619.50 73.90a1.1 1.1 0 1 0 2.2 0a1.1 1.1 0 1 0 -2.2 0zM564.80 82.40a1.1 1.1 0 1 0 2.2 0a1.1 1.1 0 1 0 -2.2 0zM574.50 83.60a1.1 1.1 0 1 0 2.2 0a1.1 1.1 0 1 0 -2.2 0zM575.50 82.70a1.1 1.1 0 1 0 2.2 0a1.1 1.1 0 1 0 -2.2 0zM588.70 82.20a1.1 1.1 0 1 0 2.2 0a1.1 1.1 0 1 0 -2.2 0zM590.00 82.90a1.1 1.1 0 1 0 2.2 0a1.1 1.1 0 1 0 -2.2 0zM603.70 82.50a1.1 1.1 0 1 0 2.2 0a1.1 1.1 0 1 0 -2.2 0zM612.00 83.30a1.1 1.1 0 1 0 2.2 0a1.1 1.1 0 1 0 -2.2 0zM568.60 85.70a1.1 1.1 0 1 0 2.2 0a1.1 1.1 0 1 0 -2.2 0zM569.60 87.00a1.1 1.1 0 1 0 2.2 0a1.1 1.1 0 1 0 -2.2 0zM572.80 87.00a1.1 1.1 0 1 0 2.2 0a1.1 1.1 0 1 0 -2.2 0zM576.10 86.50a1.1 1.1 0 1 0 2.2 0a1.1 1.1 0 1 0 -2.2 0zM578.70 86.20a1.1 1.1 0 1 0 2.2 0a1.1 1.1 0 1 0 -2.2 0zM584.60 86.20a1.1 1.1 0 1 0 2.2 0a1.1 1.1 0 1 0 -2.2 0zM583.80 87.90a1.1 1.1 0 1 0 2.2 0a1.1 1.1 0 1 0 -2.2 0zM599.70 85.10a1.1 1.1 0 1 0 2.2 0a1.1 1.1 0 1 0 -2.2 0zM608.20 87.90a1.1 1.1 0 1 0 2.2 0a1.1 1.1 0 1 0 -2.2 0zM609.30 87.00a1.1 1.1 0 1 0 2.2 0a1.1 1.1 0 1 0 -2.2 0zM566.90 91.30a1.1 1.1 0 1 0 2.2 0a1.1 1.1 0 1 0 -2.2 0zM569.10 92.40a1.1 1.1 0 1 0 2.2 0a1.1 1.1 0 1 0 -2.2 0zM570.70 90.80a1.1 1.1 0 1 0 2.2 0a1.1 1.1 0 1 0 -2.2 0zM572.30 91.80a1.1 1.1 0 1 0 2.2 0a1.1 1.1 0 1 0 -2.2 0zM573.90 90.20a1.1 1.1 0 1 0 2.2 0a1.1 1.1 0 1 0 -2.2 0zM575.50 89.70a1.1 1.1 0 1 0 2.2 0a1.1 1.1 0 1 0 -2.2 0zM577.10 90.80a1.1 1.1 0 1 0 2.2 0a1.1 1.1 0 1 0 -2.2 0zM578.70 89.70a1.1 1.1 0 1 0 2.2 0a1.1 1.1 0 1 0 -2.2 0zM579.80 91.80a1.1 1.1 0 1 0 2.2 0a1.1 1.1 0 1 0 -2.2 0zM581.40 91.30a1.1 1.1 0 1 0 2.2 0a1.1 1.1 0 1 0 -2.2 0zM583.00 91.30a1.1 1.1 0 1 0 2.2 0a1.1 1.1 0 1 0 -2.2 0zM584.60 91.80a1.1 1.1 0 1 0 2.2 0a1.1 1.1 0 1 0 -2.2 0zM575.00 93.50a1.1 1.1 0 1 0 2.2 0a1.1 1.1 0 1 0 -2.2 0zM577.70 94.00a1.1 1.1 0 1 0 2.2 0a1.1 1.1 0 1 0 -2.2 0zM580.90 93.50a1.1 1.1 0 1 0 2.2 0a1.1 1.1 0 1 0 -2.2 0zM593.20 91.10a1.1 1.1 0 1 0 2.2 0a1.1 1.1 0 1 0 -2.2 0zM595.90 91.80a1.1 1.1 0 1 0 2.2 0a1.1 1.1 0 1 0 -2.2 0zM607.70 90.20a1.1 1.1 0 1 0 2.2 0a1.1 1.1 0 1 0 -2.2 0zM610.20 93.20a1.1 1.1 0 1 0 2.2 0a1.1 1.1 0 1 0 -2.2 0zM564.80 94.50a1.1 1.1 0 1 0 2.2 0a1.1 1.1 0 1 0 -2.2 0zM565.60 96.10a1.1 1.1 0 1 0 2.2 0a1.1 1.1 0 1 0 -2.2 0zM566.60 94.70a1.1 1.1 0 1 0 2.2 0a1.1 1.1 0 1 0 -2.2 0zM568.60 97.20a1.1 1.1 0 1 0 2.2 0a1.1 1.1 0 1 0 -2.2 0zM571.80 97.50a1.1 1.1 0 1 0 2.2 0a1.1 1.1 0 1 0 -2.2 0zM578.20 96.70a1.1 1.1 0 1 0 2.2 0a1.1 1.1 0 1 0 -2.2 0zM584.60 95.10a1.1 1.1 0 1 0 2.2 0a1.1 1.1 0 1 0 -2.2 0zM596.70 95.10a1.1 1.1 0 1 0 2.2 0a1.1 1.1 0 1 0 -2.2 0zM613.10 96.90a1.1 1.1 0 1 0 2.2 0a1.1 1.1 0 1 0 -2.2 0zM617.90 96.90a1.1 1.1 0 1 0 2.2 0a1.1 1.1 0 1 0 -2.2 0zM572.60 99.40a1.1 1.1 0 1 0 2.2 0a1.1 1.1 0 1 0 -2.2 0zM572.80 101.00a1.1 1.1 0 1 0 2.2 0a1.1 1.1 0 1 0 -2.2 0zM569.80 100.70a1.1 1.1 0 1 0 2.2 0a1.1 1.1 0 1 0 -2.2 0zM579.50 101.00a1.1 1.1 0 1 0 2.2 0a1.1 1.1 0 1 0 -2.2 0zM580.90 101.00a1.1 1.1 0 1 0 2.2 0a1.1 1.1 0 1 0 -2.2 0zM584.90 98.60a1.1 1.1 0 1 0 2.2 0a1.1 1.1 0 1 0 -2.2 0zM585.70 100.40a1.1 1.1 0 1 0 2.2 0a1.1 1.1 0 1 0 -2.2 0zM586.60 102.00a1.1 1.1 0 1 0 2.2 0a1.1 1.1 0 1 0 -2.2 0zM590.00 101.00a1.1 1.1 0 1 0 2.2 0a1.1 1.1 0 1 0 -2.2 0zM591.10 100.10a1.1 1.1 0 1 0 2.2 0a1.1 1.1 0 1 0 -2.2 0zM592.70 99.40a1.1 1.1 0 1 0 2.2 0a1.1 1.1 0 1 0 -2.2 0zM593.20 101.00a1.1 1.1 0 1 0 2.2 0a1.1 1.1 0 1 0 -2.2 0zM595.90 97.70a1.1 1.1 0 1 0 2.2 0a1.1 1.1 0 1 0 -2.2 0zM595.90 99.70a1.1 1.1 0 1 0 2.2 0a1.1 1.1 0 1 0 -2.2 0zM600.70 102.00a1.1 1.1 0 1 0 2.2 0a1.1 1.1 0 1 0 -2.2 0zM612.00 101.00a1.1 1.1 0 1 0 2.2 0a1.1 1.1 0 1 0 -2.2 0zM613.60 103.10a1.1 1.1 0 1 0 2.2 0a1.1 1.1 0 1 0 -2.2 0zM564.80 102.60a1.1 1.1 0 1 0 2.2 0a1.1 1.1 0 1 0 -2.2 0zM571.80 104.70a1.1 1.1 0 1 0 2.2 0a1.1 1.1 0 1 0 -2.2 0zM587.30 104.70a1.1 1.1 0 1 0 2.2 0a1.1 1.1 0 1 0 -2.2 0zM588.90 103.60a1.1 1.1 0 1 0 2.2 0a1.1 1.1 0 1 0 -2.2 0zM590.00 105.80a1.1 1.1 0 1 0 2.2 0a1.1 1.1 0 1 0 -2.2 0zM606.10 103.60a1.1 1.1 0 1 0 2.2 0a1.1 1.1 0 1 0 -2.2 0zM608.20 102.90a1.1 1.1 0 1 0 2.2 0a1.1 1.1 0 1 0 -2.2 0zM564.80 106.30a1.1 1.1 0 1 0 2.2 0a1.1 1.1 0 1 0 -2.2 0zM583.00 107.20a1.1 1.1 0 1 0 2.2 0a1.1 1.1 0 1 0 -2.2 0zM584.60 106.90a1.1 1.1 0 1 0 2.2 0a1.1 1.1 0 1 0 -2.2 0zM586.60 107.20a1.1 1.1 0 1 0 2.2 0a1.1 1.1 0 1 0 -2.2 0zM587.90 108.50a1.1 1.1 0 1 0 2.2 0a1.1 1.1 0 1 0 -2.2 0zM606.60 109.00a1.1 1.1 0 1 0 2.2 0a1.1 1.1 0 1 0 -2.2 0zM608.80 107.40a1.1 1.1 0 1 0 2.2 0a1.1 1.1 0 1 0 -2.2 0zM567.50 109.80a1.1 1.1 0 1 0 2.2 0a1.1 1.1 0 1 0 -2.2 0zM571.80 110.40a1.1 1.1 0 1 0 2.2 0a1.1 1.1 0 1 0 -2.2 0zM573.90 109.00a1.1 1.1 0 1 0 2.2 0a1.1 1.1 0 1 0 -2.2 0zM575.50 109.80a1.1 1.1 0 1 0 2.2 0a1.1 1.1 0 1 0 -2.2 0zM585.20 110.40a1.1 1.1 0 1 0 2.2 0a1.1 1.1 0 1 0 -2.2 0zM565.90 112.80a1.1 1.1 0 1 0 2.2 0a1.1 1.1 0 1 0 -2.2 0zM577.70 112.80a1.1 1.1 0 1 0 2.2 0a1.1 1.1 0 1 0 -2.2 0zM583.00 113.00a1.1 1.1 0 1 0 2.2 0a1.1 1.1 0 1 0 -2.2 0zM587.00 112.80a1.1 1.1 0 1 0 2.2 0a1.1 1.1 0 1 0 -2.2 0zM588.90 113.30a1.1 1.1 0 1 0 2.2 0a1.1 1.1 0 1 0 -2.2 0zM590.50 113.80a1.1 1.1 0 1 0 2.2 0a1.1 1.1 0 1 0 -2.2 0zM585.70 115.10a1.1 1.1 0 1 0 2.2 0a1.1 1.1 0 1 0 -2.2 0zM591.60 115.80a1.1 1.1 0 1 0 2.2 0a1.1 1.1 0 1 0 -2.2 0zM592.70 117.00a1.1 1.1 0 1 0 2.2 0a1.1 1.1 0 1 0 -2.2 0zM593.40 118.10a1.1 1.1 0 1 0 2.2 0a1.1 1.1 0 1 0 -2.2 0zM566.90 117.00a1.1 1.1 0 1 0 2.2 0a1.1 1.1 0 1 0 -2.2 0zM568.60 118.10a1.1 1.1 0 1 0 2.2 0a1.1 1.1 0 1 0 -2.2 0zM570.20 117.90a1.1 1.1 0 1 0 2.2 0a1.1 1.1 0 1 0 -2.2 0zM572.30 116.50a1.1 1.1 0 1 0 2.2 0a1.1 1.1 0 1 0 -2.2 0zM571.80 119.00a1.1 1.1 0 1 0 2.2 0a1.1 1.1 0 1 0 -2.2 0zM579.10 118.10a1.1 1.1 0 1 0 2.2 0a1.1 1.1 0 1 0 -2.2 0zM568.80 120.10a1.1 1.1 0 1 0 2.2 0a1.1 1.1 0 1 0 -2.2 0zM564.80 120.80a1.1 1.1 0 1 0 2.2 0a1.1 1.1 0 1 0 -2.2 0zM578.70 120.80a1.1 1.1 0 1 0 2.2 0a1.1 1.1 0 1 0 -2.2 0zM578.70 122.40a1.1 1.1 0 1 0 2.2 0a1.1 1.1 0 1 0 -2.2 0zM584.60 120.80a1.1 1.1 0 1 0 2.2 0a1.1 1.1 0 1 0 -2.2 0zM599.10 121.30a1.1 1.1 0 1 0 2.2 0a1.1 1.1 0 1 0 -2.2 0zM574.80 124.00a1.1 1.1 0 1 0 2.2 0a1.1 1.1 0 1 0 -2.2 0zM567.50 126.90a1.1 1.1 0 1 0 2.2 0a1.1 1.1 0 1 0 -2.2 0zM569.10 127.80a1.1 1.1 0 1 0 2.2 0a1.1 1.1 0 1 0 -2.2 0zM570.90 127.20a1.1 1.1 0 1 0 2.2 0a1.1 1.1 0 1 0 -2.2 0zM620.30 116.20a1.1 1.1 0 1 0 2.2 0a1.1 1.1 0 1 0 -2.2 0zM633.20 74.40a1.1 1.1 0 1 0 2.2 0a1.1 1.1 0 1 0 -2.2 0zM653.80 74.70a1.1 1.1 0 1 0 2.2 0a1.1 1.1 0 1 0 -2.2 0zM636.30 78.40a1.1 1.1 0 1 0 2.2 0a1.1 1.1 0 1 0 -2.2 0zM627.30 82.20a1.1 1.1 0 1 0 2.2 0a1.1 1.1 0 1 0 -2.2 0zM640.10 82.90a1.1 1.1 0 1 0 2.2 0a1.1 1.1 0 1 0 -2.2 0zM629.10 85.90a1.1 1.1 0 1 0 2.2 0a1.1 1.1 0 1 0 -2.2 0zM634.20 85.70a1.1 1.1 0 1 0 2.2 0a1.1 1.1 0 1 0 -2.2 0zM659.40 91.10a1.1 1.1 0 1 0 2.2 0a1.1 1.1 0 1 0 -2.2 0zM626.20 93.80a1.1 1.1 0 1 0 2.2 0a1.1 1.1 0 1 0 -2.2 0zM637.10 92.70a1.1 1.1 0 1 0 2.2 0a1.1 1.1 0 1 0 -2.2 0zM632.80 96.10a1.1 1.1 0 1 0 2.2 0a1.1 1.1 0 1 0 -2.2 0zM621.60 98.00a1.1 1.1 0 1 0 2.2 0a1.1 1.1 0 1 0 -2.2 0zM646.30 100.10a1.1 1.1 0 1 0 2.2 0a1.1 1.1 0 1 0 -2.2 0zM646.30 101.50a1.1 1.1 0 1 0 2.2 0a1.1 1.1 0 1 0 -2.2 0zM662.70 105.00a1.1 1.1 0 1 0 2.2 0a1.1 1.1 0 1 0 -2.2 0zM675.20 110.40a1.1 1.1 0 1 0 2.2 0a1.1 1.1 0 1 0 -2.2 0zM621.30 116.50a1.1 1.1 0 1 0 2.2 0a1.1 1.1 0 1 0 -2.2 0z" fill="#3a3a3a"/>
<path d="M382.50 203.80a1.1 1.1 0 1 0 2.2 0a1.1 1.1 0 1 0 -2.2 0zM386.60 205.80a1.1 1.1 0 1 0 2.2 0a1.1 1.1 0 1 0 -2.2 0zM369.60 216.00a1.1 1.1 0 1 0 2.2 0a1.1 1.1 0 1 0 -2.2 0zM377.90 216.00a1.1 1.1 0 1 0 2.2 0a1.1 1.1 0 1 0 -2.2 0zM377.90 217.30a1.1 1.1 0 1 0 2.2 0a1.1 1.1 0 1 0 -2.2 0zM387.00 220.50a1.1 1.1 0 1 0 2.2 0a1.1 1.1 0 1 0 -2.2 0zM408.50 220.70a1.1 1.1 0 1 0 2.2 0a1.1 1.1 0 1 0 -2.2 0zM420.60 217.80a1.1 1.1 0 1 0 2.2 0a1.1 1.1 0 1 0 -2.2 0zM393.00 226.00a1.1 1.1 0 1 0 2.2 0a1.1 1.1 0 1 0 -2.2 0zM393.80 226.00a1.1 1.1 0 1 0 2.2 0a1.1 1.1 0 1 0 -2.2 0zM370.70 230.70a1.1 1.1 0 1 0 2.2 0a1.1 1.1 0 1 0 -2.2 0zM373.90 229.00a1.1 1.1 0 1 0 2.2 0a1.1 1.1 0 1 0 -2.2 0zM373.90 231.00a1.1 1.1 0 1 0 2.2 0a1.1 1.1 0 1 0 -2.2 0zM377.70 231.50a1.1 1.1 0 1 0 2.2 0a1.1 1.1 0 1 0 -2.2 0zM385.50 229.90a1.1 1.1 0 1 0 2.2 0a1.1 1.1 0 1 0 -2.2 0zM416.60 230.10a1.1 1.1 0 1 0 2.2 0a1.1 1.1 0 1 0 -2.2 0zM400.20 234.60a1.1 1.1 0 1 0 2.2 0a1.1 1.1 0 1 0 -2.2 0zM364.50 238.50a1.1 1.1 0 1 0 2.2 0a1.1 1.1 0 1 0 -2.2 0zM364.50 240.30a1.1 1.1 0 1 0 2.2 0a1.1 1.1 0 1 0 -2.2 0zM368.30 237.40a1.1 1.1 0 1 0 2.2 0a1.1 1.1 0 1 0 -2.2 0zM387.30 236.80a1.1 1.1 0 1 0 2.2 0a1.1 1.1 0 1 0 -2.2 0zM414.70 236.00a1.1 1.1 0 1 0 2.2 0a1.1 1.1 0 1 0 -2.2 0zM372.30 243.90a1.1 1.1 0 1 0 2.2 0a1.1 1.1 0 1 0 -2.2 0zM374.80 242.80a1.1 1.1 0 1 0 2.2 0a1.1 1.1 0 1 0 -2.2 0zM378.70 241.90a1.1 1.1 0 1 0 2.2 0a1.1 1.1 0 1 0 -2.2 0zM381.20 242.50a1.1 1.1 0 1 0 2.2 0a1.1 1.1 0 1 0 -2.2 0zM386.80 242.50a1.1 1.1 0 1 0 2.2 0a1.1 1.1 0 1 0 -2.2 0zM392.40 240.10a1.1 1.1 0 1 0 2.2 0a1.1 1.1 0 1 0 -2.2 0zM405.90 240.80a1.1 1.1 0 1 0 2.2 0a1.1 1.1 0 1 0 -2.2 0zM410.70 240.30a1.1 1.1 0 1 0 2.2 0a1.1 1.1 0 1 0 -2.2 0zM413.80 242.50a1.1 1.1 0 1 0 2.2 0a1.1 1.1 0 1 0 -2.2 0zM418.40 240.10a1.1 1.1 0 1 0 2.2 0a1.1 1.1 0 1 0 -2.2 0zM378.00 245.70a1.1 1.1 0 1 0 2.2 0a1.1 1.1 0 1 0 -2.2 0zM399.70 245.70a1.1 1.1 0 1 0 2.2 0a1.1 1.1 0 1 0 -2.2 0zM466.10 190.20a1.1 1.1 0 1 0 2.2 0a1.1 1.1 0 1 0 -2.2 0zM473.80 192.40a1.1 1.1 0 1 0 2.2 0a1.1 1.1 0 1 0 -2.2 0zM445.20 224.20a1.1 1.1 0 1 0 2.2 0a1.1 1.1 0 1 0 -2.2 0zM432.30 229.60a1.1 1.1 0 1 0 2.2 0a1.1 1.1 0 1 0 -2.2 0zM443.80 228.00a1.1 1.1 0 1 0 2.2 0a1.1 1.1 0 1 0 -2.2 0zM446.60 229.30a1.1 1.1 0 1 0 2.2 0a1.1 1.1 0 1 0 -2.2 0zM422.70 242.50a1.1 1.1 0 1 0 2.2 0a1.1 1.1 0 1 0 -2.2 0zM435.00 241.20a1.1 1.1 0 1 0 2.2 0a1.1 1.1 0 1 0 -2.2 0zM443.00 240.00a1.1 1.1 0 1 0 2.2 0a1.1 1.1 0 1 0 -2.2 0zM451.90 242.50a1.1 1.1 0 1 0 2.2 0a1.1 1.1 0 1 0 -2.2 0zM463.70 242.80a1.1 1.1 0 1 0 2.2 0a1.1 1.1 0 1 0 -2.2 0zM372.60 244.00a1.1 1.1 0 1 0 2.2 0a1.1 1.1 0 1 0 -2.2 0zM377.10 246.40a1.1 1.1 0 1 0 2.2 0a1.1 1.1 0 1 0 -2.2 0zM383.60 246.40a1.1 1.1 0 1 0 2.2 0a1.1 1.1 0 1 0 -2.2 0zM399.40 245.90a1.1 1.1 0 1 0 2.2 0a1.1 1.1 0 1 0 -2.2 0zM393.80 248.30a1.1 1.1 0 1 0 2.2 0a1.1 1.1 0 1 0 -2.2 0zM400.70 249.60a1.1 1.1 0 1 0 2.2 0a1.1 1.1 0 1 0 -2.2 0zM415.20 248.80a1.1 1.1 0 1 0 2.2 0a1.1 1.1 0 1 0 -2.2 0zM373.10 248.50a1.1 1.1 0 1 0 2.2 0a1.1 1.1 0 1 0 -2.2 0zM374.80 251.00a1.1 1.1 0 1 0 2.2 0a1.1 1.1 0 1 0 -2.2 0zM375.90 252.40a1.1 1.1 0 1 0 2.2 0a1.1 1.1 0 1 0 -2.2 0zM366.90 255.30a1.1 1.1 0 1 0 2.2 0a1.1 1.1 0 1 0 -2.2 0zM369.10 255.30a1.1 1.1 0 1 0 2.2 0a1.1 1.1 0 1 0 -2.2 0zM370.70 255.30a1.1 1.1 0 1 0 2.2 0a1.1 1.1 0 1 0 -2.2 0zM372.30 255.30a1.1 1.1 0 1 0 2.2 0a1.1 1.1 0 1 0 -2.2 0zM379.30 255.30a1.1 1.1 0 1 0 2.2 0a1.1 1.1 0 1 0 -2.2 0zM383.00 254.70a1.1 1.1 0 1 0 2.2 0a1.1 1.1 0 1 0 -2.2 0zM388.90 254.70a1.1 1.1 0 1 0 2.2 0a1.1 1.1 0 1 0 -2.2 0zM375.00 256.90a1.1 1.1 0 1 0 2.2 0a1.1 1.1 0 1 0 -2.2 0zM375.00 258.50a1.1 1.1 0 1 0 2.2 0a1.1 1.1 0 1 0 -2.2 0zM414.70 252.40a1.1 1.1 0 1 0 2.2 0a1.1 1.1 0 1 0 -2.2 0zM419.50 254.70a1.1 1.1 0 1 0 2.2 0a1.1 1.1 0 1 0 -2.2 0zM418.80 257.70a1.1 1.1 0 1 0 2.2 0a1.1 1.1 0 1 0 -2.2 0zM394.80 257.70a1.1 1.1 0 1 0 2.2 0a1.1 1.1 0 1 0 -2.2 0zM405.00 258.50a1.1 1.1 0 1 0 2.2 0a1.1 1.1 0 1 0 -2.2 0zM390.00 259.90a1.1 1.1 0 1 0 2.2 0a1.1 1.1 0 1 0 -2.2 0zM393.80 261.00a1.1 1.1 0 1 0 2.2 0a1.1 1.1 0 1 0 -2.2 0zM397.50 260.10a1.1 1.1 0 1 0 2.2 0a1.1 1.1 0 1 0 -2.2 0zM401.30 260.30a1.1 1.1 0 1 0 2.2 0a1.1 1.1 0 1 0 -2.2 0zM393.80 263.30a1.1 1.1 0 1 0 2.2 0a1.1 1.1 0 1 0 -2.2 0zM416.60 263.10a1.1 1.1 0 1 0 2.2 0a1.1 1.1 0 1 0 -2.2 0zM415.20 264.60a1.1 1.1 0 1 0 2.2 0a1.1 1.1 0 1 0 -2.2 0zM412.50 265.50a1.1 1.1 0 1 0 2.2 0a1.1 1.1 0 1 0 -2.2 0zM397.00 265.80a1.1 1.1 0 1 0 2.2 0a1.1 1.1 0 1 0 -2.2 0zM404.50 266.70a1.1 1.1 0 1 0 2.2 0a1.1 1.1 0 1 0 -2.2 0zM382.00 265.70a1.1 1.1 0 1 0 2.2 0a1.1 1.1 0 1 0 -2.2 0zM387.60 267.80a1.1 1.1 0 1 0 2.2 0a1.1 1.1 0 1 0 -2.2 0zM384.10 269.20a1.1 1.1 0 1 0 2.2 0a1.1 1.1 0 1 0 -2.2 0zM387.00 270.30a1.1 1.1 0 1 0 2.2 0a1.1 1.1 0 1 0 -2.2 0zM400.20 271.40a1.1 1.1 0 1 0 2.2 0a1.1 1.1 0 1 0 -2.2 0zM408.80 273.20a1.1 1.1 0 1 0 2.2 0a1.1 1.1 0 1 0 -2.2 0zM410.40 274.90a1.1 1.1 0 1 0 2.2 0a1.1 1.1 0 1 0 -2.2 0zM416.60 275.10a1.1 1.1 0 1 0 2.2 0a1.1 1.1 0 1 0 -2.2 0zM377.10 273.50a1.1 1.1 0 1 0 2.2 0a1.1 1.1 0 1 0 -2.2 0zM378.70 273.00a1.1 1.1 0 1 0 2.2 0a1.1 1.1 0 1 0 -2.2 0zM379.80 272.70a1.1 1.1 0 1 0 2.2 0a1.1 1.1 0 1 0 -2.2 0zM380.90 273.50a1.1 1.1 0 1 0 2.2 0a1.1 1.1 0 1 0 -2.2 0zM382.00 274.00a1.1 1.1 0 1 0 2.2 0a1.1 1.1 0 1 0 -2.2 0zM379.80 275.10a1.1 1.1 0 1 0 2.2 0a1.1 1.1 0 1 0 -2.2 0zM381.40 275.60a1.1 1.1 0 1 0 2.2 0a1.1 1.1 0 1 0 -2.2 0zM383.00 276.70a1.1 1.1 0 1 0 2.2 0a1.1 1.1 0 1 0 -2.2 0zM388.70 275.10a1.1 1.1 0 1 0 2.2 0a1.1 1.1 0 1 0 -2.2 0zM389.80 276.70a1.1 1.1 0 1 0 2.2 0a1.1 1.1 0 1 0 -2.2 0zM379.10 278.90a1.1 1.1 0 1 0 2.2 0a1.1 1.1 0 1 0 -2.2 0zM396.20 280.30a1.1 1.1 0 1 0 2.2 0a1.1 1.1 0 1 0 -2.2 0zM407.70 280.50a1.1 1.1 0 1 0 2.2 0a1.1 1.1 0 1 0 -2.2 0zM409.30 281.00a1.1 1.1 0 1 0 2.2 0a1.1 1.1 0 1 0 -2.2 0zM390.50 282.80a1.1 1.1 0 1 0 2.2 0a1.1 1.1 0 1 0 -2.2 0zM392.20 282.80a1.1 1.1 0 1 0 2.2 0a1.1 1.1 0 1 0 -2.2 0zM393.80 282.80a1.1 1.1 0 1 0 2.2 0a1.1 1.1 0 1 0 -2.2 0zM375.00 282.40a1.1 1.1 0 1 0 2.2 0a1.1 1.1 0 1 0 -2.2 0zM376.10 285.30a1.1 1.1 0 1 0 2.2 0a1.1 1.1 0 1 0 -2.2 0zM378.50 286.90a1.1 1.1 0 1 0 2.2 0a1.1 1.1 0 1 0 -2.2 0zM414.10 285.30a1.1 1.1 0 1 0 2.2 0a1.1 1.1 0 1 0 -2.2 0zM397.70 287.40a1.1 1.1 0 1 0 2.2 0a1.1 1.1 0 1 0 -2.2 0zM376.10 290.10a1.1 1.1 0 1 0 2.2 0a1.1 1.1 0 1 0 -2.2 0zM390.00 290.70a1.1 1.1 0 1 0 2.2 0a1.1 1.1 0 1 0 -2.2 0zM378.50 293.30a1.1 1.1 0 1 0 2.2 0a1.1 1.1 0 1 0 -2.2 0zM376.30 296.60a1.1 1.1 0 1 0 2.2 0a1.1 1.1 0 1 0 -2.2 0zM371.80 299.20a1.1 1.1 0 1 0 2.2 0a1.1 1.1 0 1 0 -2.2 0zM373.90 299.60a1.1 1.1 0 1 0 2.2 0a1.1 1.1 0 1 0 -2.2 0zM366.40 300.00a1.1 1.1 0 1 0 2.2 0a1.1 1.1 0 1 0 -2.2 0zM420.60 281.80a1.1 1.1 0 1 0 2.2 0a1.1 1.1 0 1 0 -2.2 0zM420.60 287.10a1.1 1.1 0 1 0 2.2 0a1.1 1.1 0 1 0 -2.2 0zM420.60 290.30a1.1 1.1 0 1 0 2.2 0a1.1 1.1 0 1 0 -2.2 0zM436.10 247.20a1.1 1.1 0 1 0 2.2 0a1.1 1.1 0 1 0 -2.2 0zM443.80 247.20a1.1 1.1 0 1 0 2.2 0a1.1 1.1 0 1 0 -2.2 0zM443.40 250.40a1.1 1.1 0 1 0 2.2 0a1.1 1.1 0 1 0 -2.2 0zM429.80 251.70a1.1 1.1 0 1 0 2.2 0a1.1 1.1 0 1 0 -2.2 0zM421.00 254.50a1.1 1.1 0 1 0 2.2 0a1.1 1.1 0 1 0 -2.2 0zM426.20 255.60a1.1 1.1 0 1 0 2.2 0a1.1 1.1 0 1 0 -2.2 0zM475.50 259.90a1.1 1.1 0 1 0 2.2 0a1.1 1.1 0 1 0 -2.2 0zM433.90 263.30a1.1 1.1 0 1 0 2.2 0a1.1 1.1 0 1 0 -2.2 0zM425.60 266.00a1.1 1.1 0 1 0 2.2 0a1.1 1.1 0 1 0 -2.2 0zM426.20 269.50a1.1 1.1 0 1 0 2.2 0a1.1 1.1 0 1 0 -2.2 0zM427.30 270.00a1.1 1.1 0 1 0 2.2 0a1.1 1.1 0 1 0 -2.2 0zM460.50 267.40a1.1 1.1 0 1 0 2.2 0a1.1 1.1 0 1 0 -2.2 0zM364.90 262.34a1.1 1.1 0 1 0 2.2 0a1.1 1.1 0 1 0 -2.2 0zM366.11 259.04a1.1 1.1 0 1 0 2.2 0a1.1 1.1 0 1 0 -2.2 0zM365.68 271.36a1.1 1.1 0 1 0 2.2 0a1.1 1.1 0 1 0 -2.2 0zM363.91 277.31a1.1 1.1 0 1 0 2.2 0a1.1 1.1 0 1 0 -2.2 0zM363.84 274.21a1.1 1.1 0 1 0 2.2 0a1.1 1.1 0 1 0 -2.2 0zM363.96 259.81a1.1 1.1 0 1 0 2.2 0a1.1 1.1 0 1 0 -2.2 0zM365.27 290.73a1.1 1.1 0 1 0 2.2 0a1.1 1.1 0 1 0 -2.2 0zM364.16 265.38a1.1 1.1 0 1 0 2.2 0a1.1 1.1 0 1 0 -2.2 0zM366.02 295.80a1.1 1.1 0 1 0 2.2 0a1.1 1.1 0 1 0 -2.2 0zM365.84 272.66a1.1 1.1 0 1 0 2.2 0a1.1 1.1 0 1 0 -2.2 0zM367.31 257.96a1.1 1.1 0 1 0 2.2 0a1.1 1.1 0 1 0 -2.2 0zM366.88 268.16a1.1 1.1 0 1 0 2.2 0a1.1 1.1 0 1 0 -2.2 0zM364.23 260.95a1.1 1.1 0 1 0 2.2 0a1.1 1.1 0 1 0 -2.2 0zM364.84 290.28a1.1 1.1 0 1 0 2.2 0a1.1 1.1 0 1 0 -2.2 0zM364.37 280.43a1.1 1.1 0 1 0 2.2 0a1.1 1.1 0 1 0 -2.2 0zM366.06 271.64a1.1 1.1 0 1 0 2.2 0a1.1 1.1 0 1 0 -2.2 0zM365.73 258.64a1.1 1.1 0 1 0 2.2 0a1.1 1.1 0 1 0 -2.2 0zM363.92 264.65a1.1 1.1 0 1 0 2.2 0a1.1 1.1 0 1 0 -2.2 0zM366.22 273.96a1.1 1.1 0 1 0 2.2 0a1.1 1.1 0 1 0 -2.2 0zM364.86 280.59a1.1 1.1 0 1 0 2.2 0a1.1 1.1 0 1 0 -2.2 0zM365.38 268.59a1.1 1.1 0 1 0 2.2 0a1.1 1.1 0 1 0 -2.2 0zM366.64 285.36a1.1 1.1 0 1 0 2.2 0a1.1 1.1 0 1 0 -2.2 0zM364.60 280.13a1.1 1.1 0 1 0 2.2 0a1.1 1.1 0 1 0 -2.2 0zM365.64 292.76a1.1 1.1 0 1 0 2.2 0a1.1 1.1 0 1 0 -2.2 0zM366.40 268.09a1.1 1.1 0 1 0 2.2 0a1.1 1.1 0 1 0 -2.2 0zM367.33 260.96a1.1 1.1 0 1 0 2.2 0a1.1 1.1 0 1 0 -2.2 0zM365.25 287.80a1.1 1.1 0 1 0 2.2 0a1.1 1.1 0 1 0 -2.2 0zM364.26 276.54a1.1 1.1 0 1 0 2.2 0a1.1 1.1 0 1 0 -2.2 0zM363.85 284.07a1.1 1.1 0 1 0 2.2 0a1.1 1.1 0 1 0 -2.2 0zM366.53 280.07a1.1 1.1 0 1 0 2.2 0a1.1 1.1 0 1 0 -2.2 0zM366.94 269.18a1.1 1.1 0 1 0 2.2 0a1.1 1.1 0 1 0 -2.2 0zM366.27 280.96a1.1 1.1 0 1 0 2.2 0a1.1 1.1 0 1 0 -2.2 0zM365.85 275.16a1.1 1.1 0 1 0 2.2 0a1.1 1.1 0 1 0 -2.2 0zM366.81 295.68a1.1 1.1 0 1 0 2.2 0a1.1 1.1 0 1 0 -2.2 0zM365.45 283.89a1.1 1.1 0 1 0 2.2 0a1.1 1.1 0 1 0 -2.2 0zM363.92 285.46a1.1 1.1 0 1 0 2.2 0a1.1 1.1 0 1 0 -2.2 0zM366.09 297.71a1.1 1.1 0 1 0 2.2 0a1.1 1.1 0 1 0 -2.2 0zM366.74 267.95a1.1 1.1 0 1 0 2.2 0a1.1 1.1 0 1 0 -2.2 0zM365.13 284.08a1.1 1.1 0 1 0 2.2 0a1.1 1.1 0 1 0 -2.2 0zM363.78 275.39a1.1 1.1 0 1 0 2.2 0a1.1 1.1 0 1 0 -2.2 0zM364.32 260.92a1.1 1.1 0 1 0 2.2 0a1.1 1.1 0 1 0 -2.2 0zM363.92 288.27a1.1 1.1 0 1 0 2.2 0a1.1 1.1 0 1 0 -2.2 0zM364.18 266.40a1.1 1.1 0 1 0 2.2 0a1.1 1.1 0 1 0 -2.2 0zM365.15 292.60a1.1 1.1 0 1 0 2.2 0a1.1 1.1 0 1 0 -2.2 0zM364.00 274.87a1.1 1.1 0 1 0 2.2 0a1.1 1.1 0 1 0 -2.2 0zM370.97 273.13a1.1 1.1 0 1 0 2.2 0a1.1 1.1 0 1 0 -2.2 0zM372.73 272.82a1.1 1.1 0 1 0 2.2 0a1.1 1.1 0 1 0 -2.2 0zM369.21 265.64a1.1 1.1 0 1 0 2.2 0a1.1 1.1 0 1 0 -2.2 0zM369.73 273.15a1.1 1.1 0 1 0 2.2 0a1.1 1.1 0 1 0 -2.2 0zM373.63 261.41a1.1 1.1 0 1 0 2.2 0a1.1 1.1 0 1 0 -2.2 0zM368.55 262.71a1.1 1.1 0 1 0 2.2 0a1.1 1.1 0 1 0 -2.2 0zM368.92 266.76a1.1 1.1 0 1 0 2.2 0a1.1 1.1 0 1 0 -2.2 0zM371.23 263.20a1.1 1.1 0 1 0 2.2 0a1.1 1.1 0 1 0 -2.2 0zM367.43 265.70a1.1 1.1 0 1 0 2.2 0a1.1 1.1 0 1 0 -2.2 0zM369.80 268.06a1.1 1.1 0 1 0 2.2 0a1.1 1.1 0 1 0 -2.2 0zM373.60 270.05a1.1 1.1 0 1 0 2.2 0a1.1 1.1 0 1 0 -2.2 0zM370.75 268.88a1.1 1.1 0 1 0 2.2 0a1.1 1.1 0 1 0 -2.2 0zM371.80 259.86a1.1 1.1 0 1 0 2.2 0a1.1 1.1 0 1 0 -2.2 0zM373.25 271.48a1.1 1.1 0 1 0 2.2 0a1.1 1.1 0 1 0 -2.2 0zM373.08 271.77a1.1 1.1 0 1 0 2.2 0a1.1 1.1 0 1 0 -2.2 0zM369.95 265.38a1.1 1.1 0 1 0 2.2 0a1.1 1.1 0 1 0 -2.2 0zM368.07 269.15a1.1 1.1 0 1 0 2.2 0a1.1 1.1 0 1 0 -2.2 0zM367.80 260.08a1.1 1.1 0 1 0 2.2 0a1.1 1.1 0 1 0 -2.2 0zM368.76 261.60a1.1 1.1 0 1 0 2.2 0a1.1 1.1 0 1 0 -2.2 0zM369.61 259.84a1.1 1.1 0 1 0 2.2 0a1.1 1.1 0 1 0 -2.2 0zM367.90 276.91a1.1 1.1 0 1 0 2.2 0a1.1 1.1 0 1 0 -2.2 0zM368.41 278.18a1.1 1.1 0 1 0 2.2 0a1.1 1.1 0 1 0 -2.2 0zM368.03 281.25a1.1 1.1 0 1 0 2.2 0a1.1 1.1 0 1 0 -2.2 0zM370.97 276.89a1.1 1.1 0 1 0 2.2 0a1.1 1.1 0 1 0 -2.2 0zM369.16 278.08a1.1 1.1 0 1 0 2.2 0a1.1 1.1 0 1 0 -2.2 0zM369.72 276.74a1.1 1.1 0 1 0 2.2 0a1.1 1.1 0 1 0 -2.2 0zM372.14 281.96a1.1 1.1 0 1 0 2.2 0a1.1 1.1 0 1 0 -2.2 0zM370.23 278.90a1.1 1.1 0 1 0 2.2 0a1.1 1.1 0 1 0 -2.2 0zM367.50 286.92a1.1 1.1 0 1 0 2.2 0a1.1 1.1 0 1 0 -2.2 0zM369.30 288.38a1.1 1.1 0 1 0 2.2 0a1.1 1.1 0 1 0 -2.2 0zM372.70 287.45a1.1 1.1 0 1 0 2.2 0a1.1 1.1 0 1 0 -2.2 0zM367.06 294.56a1.1 1.1 0 1 0 2.2 0a1.1 1.1 0 1 0 -2.2 0zM370.60 287.32a1.1 1.1 0 1 0 2.2 0a1.1 1.1 0 1 0 -2.2 0zM370.70 286.24a1.1 1.1 0 1 0 2.2 0a1.1 1.1 0 1 0 -2.2 0zM370.60 294.81a1.1 1.1 0 1 0 2.2 0a1.1 1.1 0 1 0 -2.2 0zM372.94 292.27a1.1 1.1 0 1 0 2.2 0a1.1 1.1 0 1 0 -2.2 0z" fill="#3a3a3a"/>
<path d="M560.00 229.90a1.1 1.1 0 1 0 2.2 0a1.1 1.1 0 1 0 -2.2 0zM554.30 242.10a1.1 1.1 0 1 0 2.2 0a1.1 1.1 0 1 0 -2.2 0zM580.80 242.80a1.1 1.1 0 1 0 2.2 0a1.1 1.1 0 1 0 -2.2 0zM608.60 190.20a1.1 1.1 0 1 0 2.2 0a1.1 1.1 0 1 0 -2.2 0zM651.80 192.60a1.1 1.1 0 1 0 2.2 0a1.1 1.1 0 1 0 -2.2 0zM649.70 203.80a1.1 1.1 0 1 0 2.2 0a1.1 1.1 0 1 0 -2.2 0zM645.40 205.80a1.1 1.1 0 1 0 2.2 0a1.1 1.1 0 1 0 -2.2 0zM608.60 215.90a1.1 1.1 0 1 0 2.2 0a1.1 1.1 0 1 0 -2.2 0zM639.00 218.10a1.1 1.1 0 1 0 2.2 0a1.1 1.1 0 1 0 -2.2 0zM646.00 220.50a1.1 1.1 0 1 0 2.2 0a1.1 1.1 0 1 0 -2.2 0zM654.00 216.20a1.1 1.1 0 1 0 2.2 0a1.1 1.1 0 1 0 -2.2 0zM654.50 217.00a1.1 1.1 0 1 0 2.2 0a1.1 1.1 0 1 0 -2.2 0zM653.80 220.70a1.1 1.1 0 1 0 2.2 0a1.1 1.1 0 1 0 -2.2 0zM653.70 224.20a1.1 1.1 0 1 0 2.2 0a1.1 1.1 0 1 0 -2.2 0zM647.90 226.00a1.1 1.1 0 1 0 2.2 0a1.1 1.1 0 1 0 -2.2 0zM650.80 226.00a1.1 1.1 0 1 0 2.2 0a1.1 1.1 0 1 0 -2.2 0zM640.60 230.10a1.1 1.1 0 1 0 2.2 0a1.1 1.1 0 1 0 -2.2 0zM651.80 229.00a1.1 1.1 0 1 0 2.2 0a1.1 1.1 0 1 0 -2.2 0zM651.30 231.20a1.1 1.1 0 1 0 2.2 0a1.1 1.1 0 1 0 -2.2 0zM654.00 228.50a1.1 1.1 0 1 0 2.2 0a1.1 1.1 0 1 0 -2.2 0zM656.10 230.70a1.1 1.1 0 1 0 2.2 0a1.1 1.1 0 1 0 -2.2 0zM657.20 229.30a1.1 1.1 0 1 0 2.2 0a1.1 1.1 0 1 0 -2.2 0zM650.50 234.60a1.1 1.1 0 1 0 2.2 0a1.1 1.1 0 1 0 -2.2 0zM655.80 236.00a1.1 1.1 0 1 0 2.2 0a1.1 1.1 0 1 0 -2.2 0zM648.60 237.60a1.1 1.1 0 1 0 2.2 0a1.1 1.1 0 1 0 -2.2 0zM628.80 236.90a1.1 1.1 0 1 0 2.2 0a1.1 1.1 0 1 0 -2.2 0zM635.40 238.70a1.1 1.1 0 1 0 2.2 0a1.1 1.1 0 1 0 -2.2 0zM639.50 240.10a1.1 1.1 0 1 0 2.2 0a1.1 1.1 0 1 0 -2.2 0zM645.70 239.80a1.1 1.1 0 1 0 2.2 0a1.1 1.1 0 1 0 -2.2 0zM645.90 242.50a1.1 1.1 0 1 0 2.2 0a1.1 1.1 0 1 0 -2.2 0zM648.10 242.50a1.1 1.1 0 1 0 2.2 0a1.1 1.1 0 1 0 -2.2 0zM650.50 240.00a1.1 1.1 0 1 0 2.2 0a1.1 1.1 0 1 0 -2.2 0zM651.90 242.50a1.1 1.1 0 1 0 2.2 0a1.1 1.1 0 1 0 -2.2 0zM653.50 240.30a1.1 1.1 0 1 0 2.2 0a1.1 1.1 0 1 0 -2.2 0zM655.10 241.40a1.1 1.1 0 1 0 2.2 0a1.1 1.1 0 1 0 -2.2 0zM656.70 240.80a1.1 1.1 0 1 0 2.2 0a1.1 1.1 0 1 0 -2.2 0zM657.70 241.90a1.1 1.1 0 1 0 2.2 0a1.1 1.1 0 1 0 -2.2 0zM655.60 243.00a1.1 1.1 0 1 0 2.2 0a1.1 1.1 0 1 0 -2.2 0zM649.70 245.10a1.1 1.1 0 1 0 2.2 0a1.1 1.1 0 1 0 -2.2 0zM654.00 245.40a1.1 1.1 0 1 0 2.2 0a1.1 1.1 0 1 0 -2.2 0zM547.60 255.80a1.1 1.1 0 1 0 2.2 0a1.1 1.1 0 1 0 -2.2 0zM571.10 255.00a1.1 1.1 0 1 0 2.2 0a1.1 1.1 0 1 0 -2.2 0zM576.30 254.50a1.1 1.1 0 1 0 2.2 0a1.1 1.1 0 1 0 -2.2 0zM581.70 254.40a1.1 1.1 0 1 0 2.2 0a1.1 1.1 0 1 0 -2.2 0zM580.80 260.10a1.1 1.1 0 1 0 2.2 0a1.1 1.1 0 1 0 -2.2 0zM590.50 259.80a1.1 1.1 0 1 0 2.2 0a1.1 1.1 0 1 0 -2.2 0zM577.90 262.00a1.1 1.1 0 1 0 2.2 0a1.1 1.1 0 1 0 -2.2 0zM567.70 263.30a1.1 1.1 0 1 0 2.2 0a1.1 1.1 0 1 0 -2.2 0zM546.80 266.00a1.1 1.1 0 1 0 2.2 0a1.1 1.1 0 1 0 -2.2 0zM571.10 270.00a1.1 1.1 0 1 0 2.2 0a1.1 1.1 0 1 0 -2.2 0zM577.90 268.50a1.1 1.1 0 1 0 2.2 0a1.1 1.1 0 1 0 -2.2 0zM577.90 270.00a1.1 1.1 0 1 0 2.2 0a1.1 1.1 0 1 0 -2.2 0zM576.10 272.40a1.1 1.1 0 1 0 2.2 0a1.1 1.1 0 1 0 -2.2 0zM577.90 273.80a1.1 1.1 0 1 0 2.2 0a1.1 1.1 0 1 0 -2.2 0zM590.50 272.40a1.1 1.1 0 1 0 2.2 0a1.1 1.1 0 1 0 -2.2 0zM581.90 275.90a1.1 1.1 0 1 0 2.2 0a1.1 1.1 0 1 0 -2.2 0zM554.60 279.70a1.1 1.1 0 1 0 2.2 0a1.1 1.1 0 1 0 -2.2 0zM567.70 277.60a1.1 1.1 0 1 0 2.2 0a1.1 1.1 0 1 0 -2.2 0zM546.80 282.90a1.1 1.1 0 1 0 2.2 0a1.1 1.1 0 1 0 -2.2 0zM565.80 283.50a1.1 1.1 0 1 0 2.2 0a1.1 1.1 0 1 0 -2.2 0zM566.90 282.80a1.1 1.1 0 1 0 2.2 0a1.1 1.1 0 1 0 -2.2 0zM567.90 282.80a1.1 1.1 0 1 0 2.2 0a1.1 1.1 0 1 0 -2.2 0zM577.90 285.80a1.1 1.1 0 1 0 2.2 0a1.1 1.1 0 1 0 -2.2 0zM554.60 288.80a1.1 1.1 0 1 0 2.2 0a1.1 1.1 0 1 0 -2.2 0zM560.00 289.90a1.1 1.1 0 1 0 2.2 0a1.1 1.1 0 1 0 -2.2 0zM547.60 293.90a1.1 1.1 0 1 0 2.2 0a1.1 1.1 0 1 0 -2.2 0zM567.70 296.30a1.1 1.1 0 1 0 2.2 0a1.1 1.1 0 1 0 -2.2 0zM578.20 295.30a1.1 1.1 0 1 0 2.2 0a1.1 1.1 0 1 0 -2.2 0zM610.00 249.60a1.1 1.1 0 1 0 2.2 0a1.1 1.1 0 1 0 -2.2 0zM608.60 255.30a1.1 1.1 0 1 0 2.2 0a1.1 1.1 0 1 0 -2.2 0zM610.00 264.20a1.1 1.1 0 1 0 2.2 0a1.1 1.1 0 1 0 -2.2 0zM608.90 270.00a1.1 1.1 0 1 0 2.2 0a1.1 1.1 0 1 0 -2.2 0zM608.90 275.10a1.1 1.1 0 1 0 2.2 0a1.1 1.1 0 1 0 -2.2 0zM608.90 276.70a1.1 1.1 0 1 0 2.2 0a1.1 1.1 0 1 0 -2.2 0zM610.00 279.60a1.1 1.1 0 1 0 2.2 0a1.1 1.1 0 1 0 -2.2 0zM610.00 286.70a1.1 1.1 0 1 0 2.2 0a1.1 1.1 0 1 0 -2.2 0zM623.20 250.20a1.1 1.1 0 1 0 2.2 0a1.1 1.1 0 1 0 -2.2 0zM629.00 246.70a1.1 1.1 0 1 0 2.2 0a1.1 1.1 0 1 0 -2.2 0zM623.40 259.00a1.1 1.1 0 1 0 2.2 0a1.1 1.1 0 1 0 -2.2 0zM627.50 256.70a1.1 1.1 0 1 0 2.2 0a1.1 1.1 0 1 0 -2.2 0zM627.70 258.00a1.1 1.1 0 1 0 2.2 0a1.1 1.1 0 1 0 -2.2 0zM624.50 263.10a1.1 1.1 0 1 0 2.2 0a1.1 1.1 0 1 0 -2.2 0zM623.40 267.10a1.1 1.1 0 1 0 2.2 0a1.1 1.1 0 1 0 -2.2 0zM623.40 268.90a1.1 1.1 0 1 0 2.2 0a1.1 1.1 0 1 0 -2.2 0zM629.00 265.20a1.1 1.1 0 1 0 2.2 0a1.1 1.1 0 1 0 -2.2 0zM627.70 272.40a1.1 1.1 0 1 0 2.2 0a1.1 1.1 0 1 0 -2.2 0zM629.60 271.70a1.1 1.1 0 1 0 2.2 0a1.1 1.1 0 1 0 -2.2 0zM629.90 282.80a1.1 1.1 0 1 0 2.2 0a1.1 1.1 0 1 0 -2.2 0zM624.30 290.40a1.1 1.1 0 1 0 2.2 0a1.1 1.1 0 1 0 -2.2 0zM628.60 288.00a1.1 1.1 0 1 0 2.2 0a1.1 1.1 0 1 0 -2.2 0zM628.60 289.60a1.1 1.1 0 1 0 2.2 0a1.1 1.1 0 1 0 -2.2 0zM635.80 287.40a1.1 1.1 0 1 0 2.2 0a1.1 1.1 0 1 0 -2.2 0zM639.30 248.50a1.1 1.1 0 1 0 2.2 0a1.1 1.1 0 1 0 -2.2 0zM641.10 251.70a1.1 1.1 0 1 0 2.2 0a1.1 1.1 0 1 0 -2.2 0zM637.90 257.90a1.1 1.1 0 1 0 2.2 0a1.1 1.1 0 1 0 -2.2 0zM640.80 257.90a1.1 1.1 0 1 0 2.2 0a1.1 1.1 0 1 0 -2.2 0zM635.40 262.00a1.1 1.1 0 1 0 2.2 0a1.1 1.1 0 1 0 -2.2 0zM635.40 263.30a1.1 1.1 0 1 0 2.2 0a1.1 1.1 0 1 0 -2.2 0zM638.70 261.00a1.1 1.1 0 1 0 2.2 0a1.1 1.1 0 1 0 -2.2 0zM640.60 261.70a1.1 1.1 0 1 0 2.2 0a1.1 1.1 0 1 0 -2.2 0zM639.00 266.00a1.1 1.1 0 1 0 2.2 0a1.1 1.1 0 1 0 -2.2 0zM639.50 268.90a1.1 1.1 0 1 0 2.2 0a1.1 1.1 0 1 0 -2.2 0zM640.80 267.40a1.1 1.1 0 1 0 2.2 0a1.1 1.1 0 1 0 -2.2 0zM641.10 269.70a1.1 1.1 0 1 0 2.2 0a1.1 1.1 0 1 0 -2.2 0zM639.50 273.20a1.1 1.1 0 1 0 2.2 0a1.1 1.1 0 1 0 -2.2 0zM641.10 273.80a1.1 1.1 0 1 0 2.2 0a1.1 1.1 0 1 0 -2.2 0zM637.90 276.70a1.1 1.1 0 1 0 2.2 0a1.1 1.1 0 1 0 -2.2 0zM639.70 278.10a1.1 1.1 0 1 0 2.2 0a1.1 1.1 0 1 0 -2.2 0zM640.80 279.60a1.1 1.1 0 1 0 2.2 0a1.1 1.1 0 1 0 -2.2 0zM639.50 281.00a1.1 1.1 0 1 0 2.2 0a1.1 1.1 0 1 0 -2.2 0zM641.40 281.00a1.1 1.1 0 1 0 2.2 0a1.1 1.1 0 1 0 -2.2 0zM638.70 282.80a1.1 1.1 0 1 0 2.2 0a1.1 1.1 0 1 0 -2.2 0zM641.10 285.60a1.1 1.1 0 1 0 2.2 0a1.1 1.1 0 1 0 -2.2 0zM645.40 263.80a1.1 1.1 0 1 0 2.2 0a1.1 1.1 0 1 0 -2.2 0zM645.90 275.10a1.1 1.1 0 1 0 2.2 0a1.1 1.1 0 1 0 -2.2 0zM647.90 273.00a1.1 1.1 0 1 0 2.2 0a1.1 1.1 0 1 0 -2.2 0zM645.70 286.00a1.1 1.1 0 1 0 2.2 0a1.1 1.1 0 1 0 -2.2 0zM647.90 287.10a1.1 1.1 0 1 0 2.2 0a1.1 1.1 0 1 0 -2.2 0zM645.90 290.70a1.1 1.1 0 1 0 2.2 0a1.1 1.1 0 1 0 -2.2 0zM647.20 296.30a1.1 1.1 0 1 0 2.2 0a1.1 1.1 0 1 0 -2.2 0zM649.00 299.80a1.1 1.1 0 1 0 2.2 0a1.1 1.1 0 1 0 -2.2 0zM650.20 293.30a1.1 1.1 0 1 0 2.2 0a1.1 1.1 0 1 0 -2.2 0zM654.00 293.60a1.1 1.1 0 1 0 2.2 0a1.1 1.1 0 1 0 -2.2 0zM655.60 292.30a1.1 1.1 0 1 0 2.2 0a1.1 1.1 0 1 0 -2.2 0zM656.70 290.30a1.1 1.1 0 1 0 2.2 0a1.1 1.1 0 1 0 -2.2 0zM656.70 288.20a1.1 1.1 0 1 0 2.2 0a1.1 1.1 0 1 0 -2.2 0zM652.90 285.30a1.1 1.1 0 1 0 2.2 0a1.1 1.1 0 1 0 -2.2 0zM655.60 285.30a1.1 1.1 0 1 0 2.2 0a1.1 1.1 0 1 0 -2.2 0zM655.10 280.50a1.1 1.1 0 1 0 2.2 0a1.1 1.1 0 1 0 -2.2 0zM656.70 281.30a1.1 1.1 0 1 0 2.2 0a1.1 1.1 0 1 0 -2.2 0zM653.50 279.40a1.1 1.1 0 1 0 2.2 0a1.1 1.1 0 1 0 -2.2 0zM651.30 278.30a1.1 1.1 0 1 0 2.2 0a1.1 1.1 0 1 0 -2.2 0zM648.10 246.70a1.1 1.1 0 1 0 2.2 0a1.1 1.1 0 1 0 -2.2 0zM649.70 250.70a1.1 1.1 0 1 0 2.2 0a1.1 1.1 0 1 0 -2.2 0zM651.80 246.40a1.1 1.1 0 1 0 2.2 0a1.1 1.1 0 1 0 -2.2 0zM653.50 248.30a1.1 1.1 0 1 0 2.2 0a1.1 1.1 0 1 0 -2.2 0zM654.50 247.80a1.1 1.1 0 1 0 2.2 0a1.1 1.1 0 1 0 -2.2 0zM652.90 252.00a1.1 1.1 0 1 0 2.2 0a1.1 1.1 0 1 0 -2.2 0zM656.10 254.70a1.1 1.1 0 1 0 2.2 0a1.1 1.1 0 1 0 -2.2 0zM657.70 254.90a1.1 1.1 0 1 0 2.2 0a1.1 1.1 0 1 0 -2.2 0zM647.60 255.30a1.1 1.1 0 1 0 2.2 0a1.1 1.1 0 1 0 -2.2 0zM649.70 259.00a1.1 1.1 0 1 0 2.2 0a1.1 1.1 0 1 0 -2.2 0zM650.20 261.70a1.1 1.1 0 1 0 2.2 0a1.1 1.1 0 1 0 -2.2 0zM651.80 260.10a1.1 1.1 0 1 0 2.2 0a1.1 1.1 0 1 0 -2.2 0zM653.50 261.20a1.1 1.1 0 1 0 2.2 0a1.1 1.1 0 1 0 -2.2 0zM651.30 263.30a1.1 1.1 0 1 0 2.2 0a1.1 1.1 0 1 0 -2.2 0zM652.90 263.30a1.1 1.1 0 1 0 2.2 0a1.1 1.1 0 1 0 -2.2 0zM654.50 262.80a1.1 1.1 0 1 0 2.2 0a1.1 1.1 0 1 0 -2.2 0zM655.60 264.40a1.1 1.1 0 1 0 2.2 0a1.1 1.1 0 1 0 -2.2 0zM657.20 261.20a1.1 1.1 0 1 0 2.2 0a1.1 1.1 0 1 0 -2.2 0zM650.20 264.90a1.1 1.1 0 1 0 2.2 0a1.1 1.1 0 1 0 -2.2 0zM652.20 265.50a1.1 1.1 0 1 0 2.2 0a1.1 1.1 0 1 0 -2.2 0zM654.00 266.50a1.1 1.1 0 1 0 2.2 0a1.1 1.1 0 1 0 -2.2 0zM656.10 266.00a1.1 1.1 0 1 0 2.2 0a1.1 1.1 0 1 0 -2.2 0zM650.80 268.10a1.1 1.1 0 1 0 2.2 0a1.1 1.1 0 1 0 -2.2 0zM652.40 268.70a1.1 1.1 0 1 0 2.2 0a1.1 1.1 0 1 0 -2.2 0zM656.70 269.50a1.1 1.1 0 1 0 2.2 0a1.1 1.1 0 1 0 -2.2 0zM650.80 271.40a1.1 1.1 0 1 0 2.2 0a1.1 1.1 0 1 0 -2.2 0zM651.80 273.00a1.1 1.1 0 1 0 2.2 0a1.1 1.1 0 1 0 -2.2 0zM655.60 273.20a1.1 1.1 0 1 0 2.2 0a1.1 1.1 0 1 0 -2.2 0zM656.70 274.60a1.1 1.1 0 1 0 2.2 0a1.1 1.1 0 1 0 -2.2 0zM657.70 274.00a1.1 1.1 0 1 0 2.2 0a1.1 1.1 0 1 0 -2.2 0zM651.25 256.63a1.1 1.1 0 1 0 2.2 0a1.1 1.1 0 1 0 -2.2 0zM650.40 268.39a1.1 1.1 0 1 0 2.2 0a1.1 1.1 0 1 0 -2.2 0zM653.69 268.59a1.1 1.1 0 1 0 2.2 0a1.1 1.1 0 1 0 -2.2 0zM651.87 252.47a1.1 1.1 0 1 0 2.2 0a1.1 1.1 0 1 0 -2.2 0zM656.20 274.56a1.1 1.1 0 1 0 2.2 0a1.1 1.1 0 1 0 -2.2 0zM656.57 269.38a1.1 1.1 0 1 0 2.2 0a1.1 1.1 0 1 0 -2.2 0zM656.26 267.46a1.1 1.1 0 1 0 2.2 0a1.1 1.1 0 1 0 -2.2 0zM650.94 261.01a1.1 1.1 0 1 0 2.2 0a1.1 1.1 0 1 0 -2.2 0zM652.10 246.84a1.1 1.1 0 1 0 2.2 0a1.1 1.1 0 1 0 -2.2 0zM649.15 254.10a1.1 1.1 0 1 0 2.2 0a1.1 1.1 0 1 0 -2.2 0zM651.23 266.08a1.1 1.1 0 1 0 2.2 0a1.1 1.1 0 1 0 -2.2 0zM657.51 258.97a1.1 1.1 0 1 0 2.2 0a1.1 1.1 0 1 0 -2.2 0zM657.33 274.65a1.1 1.1 0 1 0 2.2 0a1.1 1.1 0 1 0 -2.2 0zM657.50 256.57a1.1 1.1 0 1 0 2.2 0a1.1 1.1 0 1 0 -2.2 0zM650.88 252.58a1.1 1.1 0 1 0 2.2 0a1.1 1.1 0 1 0 -2.2 0zM650.67 251.93a1.1 1.1 0 1 0 2.2 0a1.1 1.1 0 1 0 -2.2 0zM654.52 272.11a1.1 1.1 0 1 0 2.2 0a1.1 1.1 0 1 0 -2.2 0zM656.46 259.90a1.1 1.1 0 1 0 2.2 0a1.1 1.1 0 1 0 -2.2 0zM654.78 269.19a1.1 1.1 0 1 0 2.2 0a1.1 1.1 0 1 0 -2.2 0zM649.66 265.16a1.1 1.1 0 1 0 2.2 0a1.1 1.1 0 1 0 -2.2 0zM657.09 268.69a1.1 1.1 0 1 0 2.2 0a1.1 1.1 0 1 0 -2.2 0zM655.65 259.86a1.1 1.1 0 1 0 2.2 0a1.1 1.1 0 1 0 -2.2 0zM650.51 291.57a1.1 1.1 0 1 0 2.2 0a1.1 1.1 0 1 0 -2.2 0zM651.89 291.82a1.1 1.1 0 1 0 2.2 0a1.1 1.1 0 1 0 -2.2 0zM657.64 283.31a1.1 1.1 0 1 0 2.2 0a1.1 1.1 0 1 0 -2.2 0zM652.51 294.88a1.1 1.1 0 1 0 2.2 0a1.1 1.1 0 1 0 -2.2 0zM655.42 278.57a1.1 1.1 0 1 0 2.2 0a1.1 1.1 0 1 0 -2.2 0zM650.04 278.17a1.1 1.1 0 1 0 2.2 0a1.1 1.1 0 1 0 -2.2 0zM657.04 291.94a1.1 1.1 0 1 0 2.2 0a1.1 1.1 0 1 0 -2.2 0zM650.22 292.36a1.1 1.1 0 1 0 2.2 0a1.1 1.1 0 1 0 -2.2 0z" fill="#3a3a3a"/>
<path d="M387.05 390.00a1.15 1.15 0 1 0 2.3 0a1.15 1.15 0 1 0 -2.3 0zM404.75 389.30a1.15 1.15 0 1 0 2.3 0a1.15 1.15 0 1 0 -2.3 0zM408.75 393.50a1.15 1.15 0 1 0 2.3 0a1.15 1.15 0 1 0 -2.3 0zM387.75 399.50a1.15 1.15 0 1 0 2.3 0a1.15 1.15 0 1 0 -2.3 0zM391.95 398.20a1.15 1.15 0 1 0 2.3 0a1.15 1.15 0 1 0 -2.3 0zM382.05 401.80a1.15 1.15 0 1 0 2.3 0a1.15 1.15 0 1 0 -2.3 0zM383.85 402.80a1.15 1.15 0 1 0 2.3 0a1.15 1.15 0 1 0 -2.3 0zM406.55 404.90a1.15 1.15 0 1 0 2.3 0a1.15 1.15 0 1 0 -2.3 0zM409.95 406.60a1.15 1.15 0 1 0 2.3 0a1.15 1.15 0 1 0 -2.3 0zM381.05 414.10a1.15 1.15 0 1 0 2.3 0a1.15 1.15 0 1 0 -2.3 0zM393.85 415.10a1.15 1.15 0 1 0 2.3 0a1.15 1.15 0 1 0 -2.3 0zM404.35 413.70a1.15 1.15 0 1 0 2.3 0a1.15 1.15 0 1 0 -2.3 0zM406.55 415.10a1.15 1.15 0 1 0 2.3 0a1.15 1.15 0 1 0 -2.3 0zM408.55 417.70a1.15 1.15 0 1 0 2.3 0a1.15 1.15 0 1 0 -2.3 0zM409.45 420.20a1.15 1.15 0 1 0 2.3 0a1.15 1.15 0 1 0 -2.3 0zM398.05 418.80a1.15 1.15 0 1 0 2.3 0a1.15 1.15 0 1 0 -2.3 0zM386.75 421.90a1.15 1.15 0 1 0 2.3 0a1.15 1.15 0 1 0 -2.3 0zM389.55 421.90a1.15 1.15 0 1 0 2.3 0a1.15 1.15 0 1 0 -2.3 0zM394.15 421.20a1.15 1.15 0 1 0 2.3 0a1.15 1.15 0 1 0 -2.3 0zM383.05 424.50a1.15 1.15 0 1 0 2.3 0a1.15 1.15 0 1 0 -2.3 0zM385.55 426.90a1.15 1.15 0 1 0 2.3 0a1.15 1.15 0 1 0 -2.3 0zM398.65 424.70a1.15 1.15 0 1 0 2.3 0a1.15 1.15 0 1 0 -2.3 0zM403.35 426.20a1.15 1.15 0 1 0 2.3 0a1.15 1.15 0 1 0 -2.3 0zM409.75 426.40a1.15 1.15 0 1 0 2.3 0a1.15 1.15 0 1 0 -2.3 0zM360.05 426.20a1.15 1.15 0 1 0 2.3 0a1.15 1.15 0 1 0 -2.3 0zM362.45 428.00a1.15 1.15 0 1 0 2.3 0a1.15 1.15 0 1 0 -2.3 0zM378.75 427.30a1.15 1.15 0 1 0 2.3 0a1.15 1.15 0 1 0 -2.3 0zM392.95 429.40a1.15 1.15 0 1 0 2.3 0a1.15 1.15 0 1 0 -2.3 0zM375.65 432.50a1.15 1.15 0 1 0 2.3 0a1.15 1.15 0 1 0 -2.3 0zM377.75 432.50a1.15 1.15 0 1 0 2.3 0a1.15 1.15 0 1 0 -2.3 0zM360.05 435.80a1.15 1.15 0 1 0 2.3 0a1.15 1.15 0 1 0 -2.3 0zM368.25 438.60a1.15 1.15 0 1 0 2.3 0a1.15 1.15 0 1 0 -2.3 0zM370.65 436.80a1.15 1.15 0 1 0 2.3 0a1.15 1.15 0 1 0 -2.3 0zM373.55 438.90a1.15 1.15 0 1 0 2.3 0a1.15 1.15 0 1 0 -2.3 0zM383.85 438.50a1.15 1.15 0 1 0 2.3 0a1.15 1.15 0 1 0 -2.3 0zM394.85 437.10a1.15 1.15 0 1 0 2.3 0a1.15 1.15 0 1 0 -2.3 0zM397.65 437.80a1.15 1.15 0 1 0 2.3 0a1.15 1.15 0 1 0 -2.3 0zM374.25 443.90a1.15 1.15 0 1 0 2.3 0a1.15 1.15 0 1 0 -2.3 0zM377.75 442.90a1.15 1.15 0 1 0 2.3 0a1.15 1.15 0 1 0 -2.3 0zM368.25 446.30a1.15 1.15 0 1 0 2.3 0a1.15 1.15 0 1 0 -2.3 0zM383.85 446.70a1.15 1.15 0 1 0 2.3 0a1.15 1.15 0 1 0 -2.3 0zM372.85 448.60a1.15 1.15 0 1 0 2.3 0a1.15 1.15 0 1 0 -2.3 0zM384.45 449.60a1.15 1.15 0 1 0 2.3 0a1.15 1.15 0 1 0 -2.3 0zM402.35 448.20a1.15 1.15 0 1 0 2.3 0a1.15 1.15 0 1 0 -2.3 0zM415.35 377.50a1.15 1.15 0 1 0 2.3 0a1.15 1.15 0 1 0 -2.3 0zM435.25 385.00a1.15 1.15 0 1 0 2.3 0a1.15 1.15 0 1 0 -2.3 0zM440.85 385.00a1.15 1.15 0 1 0 2.3 0a1.15 1.15 0 1 0 -2.3 0zM450.85 391.80a1.15 1.15 0 1 0 2.3 0a1.15 1.15 0 1 0 -2.3 0zM408.95 393.50a1.15 1.15 0 1 0 2.3 0a1.15 1.15 0 1 0 -2.3 0zM415.35 395.70a1.15 1.15 0 1 0 2.3 0a1.15 1.15 0 1 0 -2.3 0zM418.65 398.90a1.15 1.15 0 1 0 2.3 0a1.15 1.15 0 1 0 -2.3 0zM445.85 403.00a1.15 1.15 0 1 0 2.3 0a1.15 1.15 0 1 0 -2.3 0zM484.85 403.50a1.15 1.15 0 1 0 2.3 0a1.15 1.15 0 1 0 -2.3 0zM410.35 406.60a1.15 1.15 0 1 0 2.3 0a1.15 1.15 0 1 0 -2.3 0zM415.05 408.40a1.15 1.15 0 1 0 2.3 0a1.15 1.15 0 1 0 -2.3 0zM417.95 407.70a1.15 1.15 0 1 0 2.3 0a1.15 1.15 0 1 0 -2.3 0zM418.15 412.70a1.15 1.15 0 1 0 2.3 0a1.15 1.15 0 1 0 -2.3 0zM418.95 414.50a1.15 1.15 0 1 0 2.3 0a1.15 1.15 0 1 0 -2.3 0zM418.95 416.70a1.15 1.15 0 1 0 2.3 0a1.15 1.15 0 1 0 -2.3 0zM419.35 419.80a1.15 1.15 0 1 0 2.3 0a1.15 1.15 0 1 0 -2.3 0zM408.95 417.40a1.15 1.15 0 1 0 2.3 0a1.15 1.15 0 1 0 -2.3 0zM409.65 420.10a1.15 1.15 0 1 0 2.3 0a1.15 1.15 0 1 0 -2.3 0zM433.85 416.70a1.15 1.15 0 1 0 2.3 0a1.15 1.15 0 1 0 -2.3 0zM438.35 418.10a1.15 1.15 0 1 0 2.3 0a1.15 1.15 0 1 0 -2.3 0zM487.95 417.90a1.15 1.15 0 1 0 2.3 0a1.15 1.15 0 1 0 -2.3 0zM417.05 424.00a1.15 1.15 0 1 0 2.3 0a1.15 1.15 0 1 0 -2.3 0zM422.45 425.00a1.15 1.15 0 1 0 2.3 0a1.15 1.15 0 1 0 -2.3 0zM433.55 424.70a1.15 1.15 0 1 0 2.3 0a1.15 1.15 0 1 0 -2.3 0zM415.65 431.10a1.15 1.15 0 1 0 2.3 0a1.15 1.15 0 1 0 -2.3 0zM432.15 432.10a1.15 1.15 0 1 0 2.3 0a1.15 1.15 0 1 0 -2.3 0zM424.55 437.20a1.15 1.15 0 1 0 2.3 0a1.15 1.15 0 1 0 -2.3 0zM432.15 437.10a1.15 1.15 0 1 0 2.3 0a1.15 1.15 0 1 0 -2.3 0zM449.65 437.10a1.15 1.15 0 1 0 2.3 0a1.15 1.15 0 1 0 -2.3 0zM415.65 442.50a1.15 1.15 0 1 0 2.3 0a1.15 1.15 0 1 0 -2.3 0zM432.65 442.50a1.15 1.15 0 1 0 2.3 0a1.15 1.15 0 1 0 -2.3 0zM426.75 445.00a1.15 1.15 0 1 0 2.3 0a1.15 1.15 0 1 0 -2.3 0zM450.85 443.20a1.15 1.15 0 1 0 2.3 0a1.15 1.15 0 1 0 -2.3 0zM452.25 445.00a1.15 1.15 0 1 0 2.3 0a1.15 1.15 0 1 0 -2.3 0zM384.15 449.70a1.15 1.15 0 1 0 2.3 0a1.15 1.15 0 1 0 -2.3 0zM350.15 455.80a1.15 1.15 0 1 0 2.3 0a1.15 1.15 0 1 0 -2.3 0zM369.95 455.80a1.15 1.15 0 1 0 2.3 0a1.15 1.15 0 1 0 -2.3 0zM370.65 457.20a1.15 1.15 0 1 0 2.3 0a1.15 1.15 0 1 0 -2.3 0zM375.95 453.70a1.15 1.15 0 1 0 2.3 0a1.15 1.15 0 1 0 -2.3 0zM389.85 455.40a1.15 1.15 0 1 0 2.3 0a1.15 1.15 0 1 0 -2.3 0zM391.25 457.20a1.15 1.15 0 1 0 2.3 0a1.15 1.15 0 1 0 -2.3 0zM393.85 456.20a1.15 1.15 0 1 0 2.3 0a1.15 1.15 0 1 0 -2.3 0zM399.05 456.80a1.15 1.15 0 1 0 2.3 0a1.15 1.15 0 1 0 -2.3 0zM405.45 457.60a1.15 1.15 0 1 0 2.3 0a1.15 1.15 0 1 0 -2.3 0zM407.55 459.10a1.15 1.15 0 1 0 2.3 0a1.15 1.15 0 1 0 -2.3 0zM354.15 459.60a1.15 1.15 0 1 0 2.3 0a1.15 1.15 0 1 0 -2.3 0zM378.75 459.10a1.15 1.15 0 1 0 2.3 0a1.15 1.15 0 1 0 -2.3 0zM349.45 462.20a1.15 1.15 0 1 0 2.3 0a1.15 1.15 0 1 0 -2.3 0zM350.45 464.70a1.15 1.15 0 1 0 2.3 0a1.15 1.15 0 1 0 -2.3 0zM361.15 461.10a1.15 1.15 0 1 0 2.3 0a1.15 1.15 0 1 0 -2.3 0zM365.75 463.30a1.15 1.15 0 1 0 2.3 0a1.15 1.15 0 1 0 -2.3 0zM372.55 462.90a1.15 1.15 0 1 0 2.3 0a1.15 1.15 0 1 0 -2.3 0zM374.25 463.60a1.15 1.15 0 1 0 2.3 0a1.15 1.15 0 1 0 -2.3 0zM379.95 462.90a1.15 1.15 0 1 0 2.3 0a1.15 1.15 0 1 0 -2.3 0zM391.25 464.30a1.15 1.15 0 1 0 2.3 0a1.15 1.15 0 1 0 -2.3 0zM398.35 465.00a1.15 1.15 0 1 0 2.3 0a1.15 1.15 0 1 0 -2.3 0zM356.05 465.70a1.15 1.15 0 1 0 2.3 0a1.15 1.15 0 1 0 -2.3 0zM371.45 467.20a1.15 1.15 0 1 0 2.3 0a1.15 1.15 0 1 0 -2.3 0zM377.75 465.70a1.15 1.15 0 1 0 2.3 0a1.15 1.15 0 1 0 -2.3 0zM379.65 467.20a1.15 1.15 0 1 0 2.3 0a1.15 1.15 0 1 0 -2.3 0zM383.05 466.20a1.15 1.15 0 1 0 2.3 0a1.15 1.15 0 1 0 -2.3 0zM385.35 467.90a1.15 1.15 0 1 0 2.3 0a1.15 1.15 0 1 0 -2.3 0zM395.85 466.70a1.15 1.15 0 1 0 2.3 0a1.15 1.15 0 1 0 -2.3 0zM348.95 470.40a1.15 1.15 0 1 0 2.3 0a1.15 1.15 0 1 0 -2.3 0zM359.75 469.30a1.15 1.15 0 1 0 2.3 0a1.15 1.15 0 1 0 -2.3 0zM362.15 469.00a1.15 1.15 0 1 0 2.3 0a1.15 1.15 0 1 0 -2.3 0zM362.85 471.80a1.15 1.15 0 1 0 2.3 0a1.15 1.15 0 1 0 -2.3 0zM373.55 471.40a1.15 1.15 0 1 0 2.3 0a1.15 1.15 0 1 0 -2.3 0zM374.95 472.10a1.15 1.15 0 1 0 2.3 0a1.15 1.15 0 1 0 -2.3 0zM379.95 473.30a1.15 1.15 0 1 0 2.3 0a1.15 1.15 0 1 0 -2.3 0zM384.15 472.40a1.15 1.15 0 1 0 2.3 0a1.15 1.15 0 1 0 -2.3 0zM386.35 472.40a1.15 1.15 0 1 0 2.3 0a1.15 1.15 0 1 0 -2.3 0zM388.15 471.80a1.15 1.15 0 1 0 2.3 0a1.15 1.15 0 1 0 -2.3 0zM391.25 470.70a1.15 1.15 0 1 0 2.3 0a1.15 1.15 0 1 0 -2.3 0zM391.95 472.80a1.15 1.15 0 1 0 2.3 0a1.15 1.15 0 1 0 -2.3 0zM354.15 472.80a1.15 1.15 0 1 0 2.3 0a1.15 1.15 0 1 0 -2.3 0zM365.05 474.20a1.15 1.15 0 1 0 2.3 0a1.15 1.15 0 1 0 -2.3 0zM386.35 475.70a1.15 1.15 0 1 0 2.3 0a1.15 1.15 0 1 0 -2.3 0zM398.05 475.70a1.15 1.15 0 1 0 2.3 0a1.15 1.15 0 1 0 -2.3 0zM352.65 476.40a1.15 1.15 0 1 0 2.3 0a1.15 1.15 0 1 0 -2.3 0zM355.55 477.80a1.15 1.15 0 1 0 2.3 0a1.15 1.15 0 1 0 -2.3 0zM341.35 478.10a1.15 1.15 0 1 0 2.3 0a1.15 1.15 0 1 0 -2.3 0zM363.65 479.50a1.15 1.15 0 1 0 2.3 0a1.15 1.15 0 1 0 -2.3 0zM366.85 477.50a1.15 1.15 0 1 0 2.3 0a1.15 1.15 0 1 0 -2.3 0zM371.45 478.10a1.15 1.15 0 1 0 2.3 0a1.15 1.15 0 1 0 -2.3 0zM372.85 477.50a1.15 1.15 0 1 0 2.3 0a1.15 1.15 0 1 0 -2.3 0zM386.35 480.30a1.15 1.15 0 1 0 2.3 0a1.15 1.15 0 1 0 -2.3 0zM394.35 480.30a1.15 1.15 0 1 0 2.3 0a1.15 1.15 0 1 0 -2.3 0zM407.55 477.80a1.15 1.15 0 1 0 2.3 0a1.15 1.15 0 1 0 -2.3 0zM343.05 482.80a1.15 1.15 0 1 0 2.3 0a1.15 1.15 0 1 0 -2.3 0zM346.15 481.30a1.15 1.15 0 1 0 2.3 0a1.15 1.15 0 1 0 -2.3 0zM348.45 480.30a1.15 1.15 0 1 0 2.3 0a1.15 1.15 0 1 0 -2.3 0zM351.55 481.80a1.15 1.15 0 1 0 2.3 0a1.15 1.15 0 1 0 -2.3 0zM356.05 482.30a1.15 1.15 0 1 0 2.3 0a1.15 1.15 0 1 0 -2.3 0zM364.35 481.80a1.15 1.15 0 1 0 2.3 0a1.15 1.15 0 1 0 -2.3 0zM366.05 482.80a1.15 1.15 0 1 0 2.3 0a1.15 1.15 0 1 0 -2.3 0zM378.75 481.80a1.15 1.15 0 1 0 2.3 0a1.15 1.15 0 1 0 -2.3 0zM401.95 483.50a1.15 1.15 0 1 0 2.3 0a1.15 1.15 0 1 0 -2.3 0zM403.35 482.30a1.15 1.15 0 1 0 2.3 0a1.15 1.15 0 1 0 -2.3 0zM337.05 487.70a1.15 1.15 0 1 0 2.3 0a1.15 1.15 0 1 0 -2.3 0zM345.55 487.40a1.15 1.15 0 1 0 2.3 0a1.15 1.15 0 1 0 -2.3 0zM349.85 486.00a1.15 1.15 0 1 0 2.3 0a1.15 1.15 0 1 0 -2.3 0zM351.85 486.00a1.15 1.15 0 1 0 2.3 0a1.15 1.15 0 1 0 -2.3 0zM363.65 485.60a1.15 1.15 0 1 0 2.3 0a1.15 1.15 0 1 0 -2.3 0zM367.85 485.60a1.15 1.15 0 1 0 2.3 0a1.15 1.15 0 1 0 -2.3 0zM373.15 485.20a1.15 1.15 0 1 0 2.3 0a1.15 1.15 0 1 0 -2.3 0zM374.55 487.00a1.15 1.15 0 1 0 2.3 0a1.15 1.15 0 1 0 -2.3 0zM373.95 488.90a1.15 1.15 0 1 0 2.3 0a1.15 1.15 0 1 0 -2.3 0zM377.75 488.40a1.15 1.15 0 1 0 2.3 0a1.15 1.15 0 1 0 -2.3 0zM381.65 487.70a1.15 1.15 0 1 0 2.3 0a1.15 1.15 0 1 0 -2.3 0zM381.65 490.30a1.15 1.15 0 1 0 2.3 0a1.15 1.15 0 1 0 -2.3 0zM388.45 486.60a1.15 1.15 0 1 0 2.3 0a1.15 1.15 0 1 0 -2.3 0zM388.45 489.10a1.15 1.15 0 1 0 2.3 0a1.15 1.15 0 1 0 -2.3 0zM397.65 486.60a1.15 1.15 0 1 0 2.3 0a1.15 1.15 0 1 0 -2.3 0zM399.05 491.30a1.15 1.15 0 1 0 2.3 0a1.15 1.15 0 1 0 -2.3 0zM351.85 492.30a1.15 1.15 0 1 0 2.3 0a1.15 1.15 0 1 0 -2.3 0zM355.05 492.70a1.15 1.15 0 1 0 2.3 0a1.15 1.15 0 1 0 -2.3 0zM356.95 493.40a1.15 1.15 0 1 0 2.3 0a1.15 1.15 0 1 0 -2.3 0zM356.95 495.50a1.15 1.15 0 1 0 2.3 0a1.15 1.15 0 1 0 -2.3 0zM344.75 495.50a1.15 1.15 0 1 0 2.3 0a1.15 1.15 0 1 0 -2.3 0zM346.55 496.90a1.15 1.15 0 1 0 2.3 0a1.15 1.15 0 1 0 -2.3 0zM383.05 495.50a1.15 1.15 0 1 0 2.3 0a1.15 1.15 0 1 0 -2.3 0zM389.55 495.90a1.15 1.15 0 1 0 2.3 0a1.15 1.15 0 1 0 -2.3 0zM390.95 494.50a1.15 1.15 0 1 0 2.3 0a1.15 1.15 0 1 0 -2.3 0zM345.55 501.20a1.15 1.15 0 1 0 2.3 0a1.15 1.15 0 1 0 -2.3 0zM360.05 500.80a1.15 1.15 0 1 0 2.3 0a1.15 1.15 0 1 0 -2.3 0zM366.05 499.40a1.15 1.15 0 1 0 2.3 0a1.15 1.15 0 1 0 -2.3 0zM398.05 499.80a1.15 1.15 0 1 0 2.3 0a1.15 1.15 0 1 0 -2.3 0zM358.95 504.50a1.15 1.15 0 1 0 2.3 0a1.15 1.15 0 1 0 -2.3 0zM364.65 504.50a1.15 1.15 0 1 0 2.3 0a1.15 1.15 0 1 0 -2.3 0zM336.65 506.40a1.15 1.15 0 1 0 2.3 0a1.15 1.15 0 1 0 -2.3 0zM344.75 509.30a1.15 1.15 0 1 0 2.3 0a1.15 1.15 0 1 0 -2.3 0zM355.85 509.70a1.15 1.15 0 1 0 2.3 0a1.15 1.15 0 1 0 -2.3 0zM335.65 513.30a1.15 1.15 0 1 0 2.3 0a1.15 1.15 0 1 0 -2.3 0zM341.35 515.80a1.15 1.15 0 1 0 2.3 0a1.15 1.15 0 1 0 -2.3 0zM359.75 528.60a1.15 1.15 0 1 0 2.3 0a1.15 1.15 0 1 0 -2.3 0zM415.65 450.60a1.15 1.15 0 1 0 2.3 0a1.15 1.15 0 1 0 -2.3 0zM433.05 450.80a1.15 1.15 0 1 0 2.3 0a1.15 1.15 0 1 0 -2.3 0zM411.15 456.80a1.15 1.15 0 1 0 2.3 0a1.15 1.15 0 1 0 -2.3 0zM434.05 456.50a1.15 1.15 0 1 0 2.3 0a1.15 1.15 0 1 0 -2.3 0zM438.35 457.60a1.15 1.15 0 1 0 2.3 0a1.15 1.15 0 1 0 -2.3 0zM446.25 456.10a1.15 1.15 0 1 0 2.3 0a1.15 1.15 0 1 0 -2.3 0zM466.45 461.10a1.15 1.15 0 1 0 2.3 0a1.15 1.15 0 1 0 -2.3 0zM468.95 459.80a1.15 1.15 0 1 0 2.3 0a1.15 1.15 0 1 0 -2.3 0zM415.05 466.00a1.15 1.15 0 1 0 2.3 0a1.15 1.15 0 1 0 -2.3 0zM430.65 464.70a1.15 1.15 0 1 0 2.3 0a1.15 1.15 0 1 0 -2.3 0zM452.95 466.90a1.15 1.15 0 1 0 2.3 0a1.15 1.15 0 1 0 -2.3 0zM418.95 473.50a1.15 1.15 0 1 0 2.3 0a1.15 1.15 0 1 0 -2.3 0zM423.55 475.90a1.15 1.15 0 1 0 2.3 0a1.15 1.15 0 1 0 -2.3 0zM421.05 482.30a1.15 1.15 0 1 0 2.3 0a1.15 1.15 0 1 0 -2.3 0zM413.25 486.00a1.15 1.15 0 1 0 2.3 0a1.15 1.15 0 1 0 -2.3 0zM416.45 489.80a1.15 1.15 0 1 0 2.3 0a1.15 1.15 0 1 0 -2.3 0z" fill="#3a3a3a"/>
</svg></body></html>
